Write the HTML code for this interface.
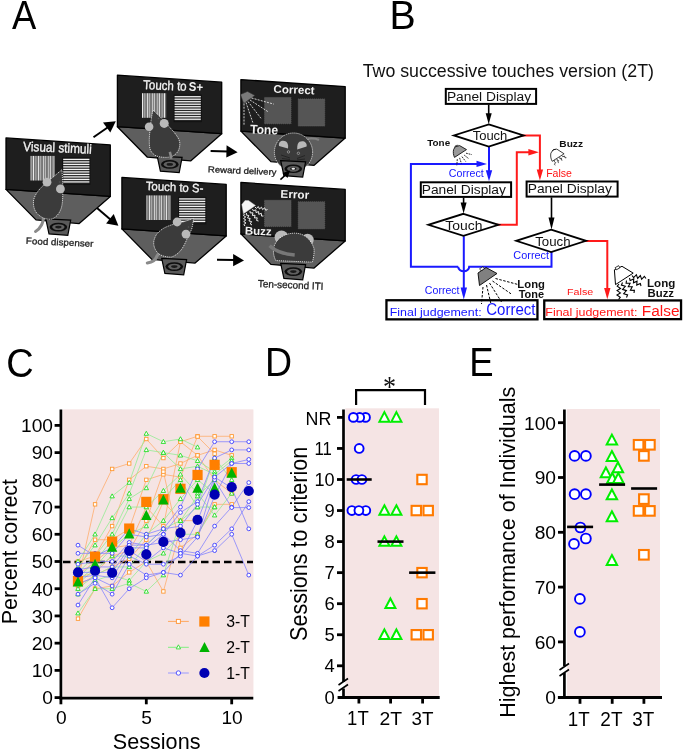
<!DOCTYPE html>
<html><head><meta charset="utf-8"><style>
html,body{margin:0;padding:0;background:#fff;}
svg{display:block;will-change:transform;}
text{font-family:"Liberation Sans",sans-serif;}
</style></head><body>
<svg width="685" height="751" viewBox="0 0 685 751">
<rect width="685" height="751" fill="#fff"/>
<polygon points="6.00,189.40 110.30,196.40 79.20,223.60 36.00,219.90" fill="#5e5e5e" stroke="#000" stroke-width="1.3" stroke-linejoin="round"/><polygon points="6.00,137.90 110.30,144.90 110.30,196.40 6.00,189.40" fill="#1e1e1e" stroke="#000" stroke-width="1.3" stroke-linejoin="round"/><rect x="30.30" y="155.90" width="24.50" height="24.60" fill="#2a2a2a"/><rect x="30.60" y="155.90" width="0.95" height="24.60" fill="#f6f6f6"/><rect x="31.90" y="155.90" width="0.8" height="24.60" fill="#9a9a9a"/><rect x="33.05" y="155.90" width="0.95" height="24.60" fill="#f6f6f6"/><rect x="34.35" y="155.90" width="0.8" height="24.60" fill="#9a9a9a"/><rect x="35.50" y="155.90" width="0.95" height="24.60" fill="#f6f6f6"/><rect x="36.80" y="155.90" width="0.8" height="24.60" fill="#9a9a9a"/><rect x="37.95" y="155.90" width="0.95" height="24.60" fill="#f6f6f6"/><rect x="39.25" y="155.90" width="0.8" height="24.60" fill="#9a9a9a"/><rect x="40.40" y="155.90" width="0.95" height="24.60" fill="#f6f6f6"/><rect x="41.70" y="155.90" width="0.8" height="24.60" fill="#9a9a9a"/><rect x="42.85" y="155.90" width="0.95" height="24.60" fill="#f6f6f6"/><rect x="44.15" y="155.90" width="0.8" height="24.60" fill="#9a9a9a"/><rect x="45.30" y="155.90" width="0.95" height="24.60" fill="#f6f6f6"/><rect x="46.60" y="155.90" width="0.8" height="24.60" fill="#9a9a9a"/><rect x="47.75" y="155.90" width="0.95" height="24.60" fill="#f6f6f6"/><rect x="49.05" y="155.90" width="0.8" height="24.60" fill="#9a9a9a"/><rect x="50.20" y="155.90" width="0.95" height="24.60" fill="#f6f6f6"/><rect x="51.50" y="155.90" width="0.8" height="24.60" fill="#9a9a9a"/><rect x="52.65" y="155.90" width="0.95" height="24.60" fill="#f6f6f6"/><rect x="53.95" y="155.90" width="0.8" height="24.60" fill="#9a9a9a"/><rect x="62.20" y="157.30" width="28.20" height="27.50" fill="#111"/><rect x="63.20" y="158.30" width="26.20" height="25.50" fill="#262626"/><rect x="63.20" y="158.80" width="26.20" height="1.25" fill="#f4f4f4"/><rect x="63.20" y="161.30" width="26.20" height="1.25" fill="#f4f4f4"/><rect x="63.20" y="163.80" width="26.20" height="1.25" fill="#f4f4f4"/><rect x="63.20" y="166.30" width="26.20" height="1.25" fill="#f4f4f4"/><rect x="63.20" y="168.80" width="26.20" height="1.25" fill="#f4f4f4"/><rect x="63.20" y="171.30" width="26.20" height="1.25" fill="#f4f4f4"/><rect x="63.20" y="173.80" width="26.20" height="1.25" fill="#f4f4f4"/><rect x="63.20" y="176.30" width="26.20" height="1.25" fill="#f4f4f4"/><rect x="63.20" y="178.80" width="26.20" height="1.25" fill="#f4f4f4"/><rect x="63.20" y="181.30" width="26.20" height="1.25" fill="#f4f4f4"/><polygon points="45.80,218.90 70.70,220.10 67.80,235.30 49.00,233.90" fill="#5a5a5a" stroke="#000" stroke-width="1.2"/><ellipse cx="58.40" cy="227.10" rx="8.8" ry="4.3" fill="#0d0d0d"/><ellipse cx="58.40" cy="227.10" rx="6.2" ry="2.9" fill="#606060"/><ellipse cx="58.40" cy="227.10" rx="3.2" ry="1.4" fill="#1a1a1a"/>
<polygon points="117.40,126.70 221.70,133.70 190.60,160.90 147.40,157.20" fill="#5e5e5e" stroke="#000" stroke-width="1.3" stroke-linejoin="round"/><polygon points="117.40,75.20 221.70,82.20 221.70,133.70 117.40,126.70" fill="#1e1e1e" stroke="#000" stroke-width="1.3" stroke-linejoin="round"/><rect x="141.70" y="93.20" width="24.50" height="24.60" fill="#2a2a2a"/><rect x="142.00" y="93.20" width="0.95" height="24.60" fill="#f6f6f6"/><rect x="143.30" y="93.20" width="0.8" height="24.60" fill="#9a9a9a"/><rect x="144.45" y="93.20" width="0.95" height="24.60" fill="#f6f6f6"/><rect x="145.75" y="93.20" width="0.8" height="24.60" fill="#9a9a9a"/><rect x="146.90" y="93.20" width="0.95" height="24.60" fill="#f6f6f6"/><rect x="148.20" y="93.20" width="0.8" height="24.60" fill="#9a9a9a"/><rect x="149.35" y="93.20" width="0.95" height="24.60" fill="#f6f6f6"/><rect x="150.65" y="93.20" width="0.8" height="24.60" fill="#9a9a9a"/><rect x="151.80" y="93.20" width="0.95" height="24.60" fill="#f6f6f6"/><rect x="153.10" y="93.20" width="0.8" height="24.60" fill="#9a9a9a"/><rect x="154.25" y="93.20" width="0.95" height="24.60" fill="#f6f6f6"/><rect x="155.55" y="93.20" width="0.8" height="24.60" fill="#9a9a9a"/><rect x="156.70" y="93.20" width="0.95" height="24.60" fill="#f6f6f6"/><rect x="158.00" y="93.20" width="0.8" height="24.60" fill="#9a9a9a"/><rect x="159.15" y="93.20" width="0.95" height="24.60" fill="#f6f6f6"/><rect x="160.45" y="93.20" width="0.8" height="24.60" fill="#9a9a9a"/><rect x="161.60" y="93.20" width="0.95" height="24.60" fill="#f6f6f6"/><rect x="162.90" y="93.20" width="0.8" height="24.60" fill="#9a9a9a"/><rect x="164.05" y="93.20" width="0.95" height="24.60" fill="#f6f6f6"/><rect x="165.35" y="93.20" width="0.8" height="24.60" fill="#9a9a9a"/><rect x="173.60" y="94.60" width="28.20" height="27.50" fill="#111"/><rect x="174.60" y="95.60" width="26.20" height="25.50" fill="#262626"/><rect x="174.60" y="96.10" width="26.20" height="1.25" fill="#f4f4f4"/><rect x="174.60" y="98.60" width="26.20" height="1.25" fill="#f4f4f4"/><rect x="174.60" y="101.10" width="26.20" height="1.25" fill="#f4f4f4"/><rect x="174.60" y="103.60" width="26.20" height="1.25" fill="#f4f4f4"/><rect x="174.60" y="106.10" width="26.20" height="1.25" fill="#f4f4f4"/><rect x="174.60" y="108.60" width="26.20" height="1.25" fill="#f4f4f4"/><rect x="174.60" y="111.10" width="26.20" height="1.25" fill="#f4f4f4"/><rect x="174.60" y="113.60" width="26.20" height="1.25" fill="#f4f4f4"/><rect x="174.60" y="116.10" width="26.20" height="1.25" fill="#f4f4f4"/><rect x="174.60" y="118.60" width="26.20" height="1.25" fill="#f4f4f4"/><polygon points="157.20,156.20 182.10,157.40 179.20,172.60 160.40,171.20" fill="#5a5a5a" stroke="#000" stroke-width="1.2"/><ellipse cx="169.80" cy="164.40" rx="8.8" ry="4.3" fill="#0d0d0d"/><ellipse cx="169.80" cy="164.40" rx="6.2" ry="2.9" fill="#606060"/><ellipse cx="169.80" cy="164.40" rx="3.2" ry="1.4" fill="#1a1a1a"/>
<polygon points="121.90,228.90 226.20,235.90 195.10,263.10 151.90,259.40" fill="#5e5e5e" stroke="#000" stroke-width="1.3" stroke-linejoin="round"/><polygon points="121.90,177.40 226.20,184.40 226.20,235.90 121.90,228.90" fill="#1e1e1e" stroke="#000" stroke-width="1.3" stroke-linejoin="round"/><rect x="146.20" y="195.40" width="24.50" height="24.60" fill="#2a2a2a"/><rect x="146.50" y="195.40" width="0.95" height="24.60" fill="#f6f6f6"/><rect x="147.80" y="195.40" width="0.8" height="24.60" fill="#9a9a9a"/><rect x="148.95" y="195.40" width="0.95" height="24.60" fill="#f6f6f6"/><rect x="150.25" y="195.40" width="0.8" height="24.60" fill="#9a9a9a"/><rect x="151.40" y="195.40" width="0.95" height="24.60" fill="#f6f6f6"/><rect x="152.70" y="195.40" width="0.8" height="24.60" fill="#9a9a9a"/><rect x="153.85" y="195.40" width="0.95" height="24.60" fill="#f6f6f6"/><rect x="155.15" y="195.40" width="0.8" height="24.60" fill="#9a9a9a"/><rect x="156.30" y="195.40" width="0.95" height="24.60" fill="#f6f6f6"/><rect x="157.60" y="195.40" width="0.8" height="24.60" fill="#9a9a9a"/><rect x="158.75" y="195.40" width="0.95" height="24.60" fill="#f6f6f6"/><rect x="160.05" y="195.40" width="0.8" height="24.60" fill="#9a9a9a"/><rect x="161.20" y="195.40" width="0.95" height="24.60" fill="#f6f6f6"/><rect x="162.50" y="195.40" width="0.8" height="24.60" fill="#9a9a9a"/><rect x="163.65" y="195.40" width="0.95" height="24.60" fill="#f6f6f6"/><rect x="164.95" y="195.40" width="0.8" height="24.60" fill="#9a9a9a"/><rect x="166.10" y="195.40" width="0.95" height="24.60" fill="#f6f6f6"/><rect x="167.40" y="195.40" width="0.8" height="24.60" fill="#9a9a9a"/><rect x="168.55" y="195.40" width="0.95" height="24.60" fill="#f6f6f6"/><rect x="169.85" y="195.40" width="0.8" height="24.60" fill="#9a9a9a"/><rect x="178.10" y="196.80" width="28.20" height="27.50" fill="#111"/><rect x="179.10" y="197.80" width="26.20" height="25.50" fill="#262626"/><rect x="179.10" y="198.30" width="26.20" height="1.25" fill="#f4f4f4"/><rect x="179.10" y="200.80" width="26.20" height="1.25" fill="#f4f4f4"/><rect x="179.10" y="203.30" width="26.20" height="1.25" fill="#f4f4f4"/><rect x="179.10" y="205.80" width="26.20" height="1.25" fill="#f4f4f4"/><rect x="179.10" y="208.30" width="26.20" height="1.25" fill="#f4f4f4"/><rect x="179.10" y="210.80" width="26.20" height="1.25" fill="#f4f4f4"/><rect x="179.10" y="213.30" width="26.20" height="1.25" fill="#f4f4f4"/><rect x="179.10" y="215.80" width="26.20" height="1.25" fill="#f4f4f4"/><rect x="179.10" y="218.30" width="26.20" height="1.25" fill="#f4f4f4"/><rect x="179.10" y="220.80" width="26.20" height="1.25" fill="#f4f4f4"/><polygon points="161.70,258.40 186.60,259.60 183.70,274.80 164.90,273.40" fill="#5a5a5a" stroke="#000" stroke-width="1.2"/><ellipse cx="174.30" cy="266.60" rx="8.8" ry="4.3" fill="#0d0d0d"/><ellipse cx="174.30" cy="266.60" rx="6.2" ry="2.9" fill="#606060"/><ellipse cx="174.30" cy="266.60" rx="3.2" ry="1.4" fill="#1a1a1a"/>
<polygon points="240.90,131.10 345.20,138.10 314.10,165.30 270.90,161.60" fill="#5e5e5e" stroke="#000" stroke-width="1.3" stroke-linejoin="round"/><polygon points="240.90,79.60 345.20,86.60 345.20,138.10 240.90,131.10" fill="#1e1e1e" stroke="#000" stroke-width="1.3" stroke-linejoin="round"/><rect x="264.50" y="97.40" width="26.60" height="26.40" fill="#555" stroke="#6a6a6a" stroke-width="0.6" stroke-dasharray="1 1"/><rect x="298.20" y="98.90" width="26.60" height="27.20" fill="#555" stroke="#6a6a6a" stroke-width="0.6" stroke-dasharray="1 1"/>
<polygon points="240.90,233.90 345.20,240.90 314.10,268.10 270.90,264.40" fill="#5e5e5e" stroke="#000" stroke-width="1.3" stroke-linejoin="round"/><polygon points="240.90,182.40 345.20,189.40 345.20,240.90 240.90,233.90" fill="#1e1e1e" stroke="#000" stroke-width="1.3" stroke-linejoin="round"/><rect x="264.50" y="200.20" width="26.60" height="26.40" fill="#555" stroke="#6a6a6a" stroke-width="0.6" stroke-dasharray="1 1"/><rect x="298.20" y="201.70" width="26.60" height="27.20" fill="#555" stroke="#6a6a6a" stroke-width="0.6" stroke-dasharray="1 1"/>
<path d="M44.2,214.7 C43.5,219 43,222 41.5,225 C40,228 38,230 35.5,231.5" fill="none" stroke="#8a8a8a" stroke-width="3" stroke-linecap="round"/>
<path d="M61.9,169.7 C58,173 52,178 46,183 C40,188 35,194 33.6,200 C32.8,207 35,213 40.3,216.2 C44,219 49,219.8 52,219 C57,217 60.5,212 61.8,206 C63,200 63,190 62.6,182 C62.4,177 62.2,173 61.9,169.7 Z" fill="#3b3b3b" stroke="#eee" stroke-width="0.85" stroke-dasharray="1.2 0.9"/>
<circle cx="47" cy="182.2" r="4.4" fill="#b9b9b9"/><circle cx="60.4" cy="188.9" r="4.4" fill="#b9b9b9"/>
<circle cx="59.6" cy="182" r="0.8" fill="#555"/>
<path d="M153,110 C157,114 163,119 168.5,126 C174,132 179.5,138 179.8,143 C180,150 177,154 172,156.5 C168,158 160,157.5 156,155.8 C152,153.5 150,151 149.5,146 C149,140 149.5,134 150,131 C150.5,124 151.5,116 153,110 Z" fill="#3b3b3b" stroke="#eee" stroke-width="0.85" stroke-dasharray="1.2 0.9"/>
<path d="M169.8,151.9 C170.5,154 171,156.5 171.1,158.8" fill="none" stroke="#8a8a8a" stroke-width="2.6"/>
<circle cx="149.1" cy="126.8" r="4.3" fill="#b9b9b9"/><circle cx="164.2" cy="123.4" r="4.5" fill="#b9b9b9"/>
<circle cx="158.5" cy="118.5" r="0.8" fill="#555"/>
<path d="M161,251.4 C159,253 157.5,254.5 156.5,257 C155.5,260 153,262 147.4,263" fill="none" stroke="#8a8a8a" stroke-width="3.2" stroke-linecap="round"/>
<path d="M193.6,218.4 C189,220 186,221 182.8,222 C179,223 175,224 171.5,224.9 C167,226.5 163.5,228 161,230.1 C158,232.5 156.5,234 155.4,236.5 C153.8,240 153.5,242 153.8,244.5 C154.2,247.5 155,249 156.2,251 C158,253.5 160,255 162.7,255.8 C165.5,256.8 168.5,257.2 171.5,257 C174.5,256 176.7,254.5 178.7,252.6 C181,250.5 183,247.5 184.4,244.5 C185.8,242 186.8,239.5 187.6,237.3 C189,234.5 190.3,232 191.6,229.3 C192.5,226 193.2,222 193.6,218.4 Z" fill="#3b3b3b" stroke="#eee" stroke-width="0.85" stroke-dasharray="1.2 0.9"/>
<circle cx="177.1" cy="222" r="4.4" fill="#b9b9b9"/><circle cx="186" cy="234.1" r="4.4" fill="#b9b9b9"/>
<circle cx="188.5" cy="227" r="0.8" fill="#555"/>
<path d="M306,139 C311,138 316,138.5 319,140" fill="none" stroke="#8a8a8a" stroke-width="2.2" opacity="0.8"/>
<circle cx="293.5" cy="152.1" r="19.1" fill="#3b3b3b" stroke="#eee" stroke-width="0.85" stroke-dasharray="1.2 0.9"/>
<path d="M279,146 C278,141 283,139.5 286,141.5 C287.5,142.5 288.5,144.5 288,148.5 Z" fill="#b9b9b9"/>
<path d="M306.6,146.5 C307.5,142 303,140 299.5,141.8 C298,142.8 297,145 297.2,149.5 Z" fill="#b9b9b9"/>
<circle cx="288.5" cy="151.9" r="1.2" fill="none" stroke="#bbb" stroke-width="0.6"/><circle cx="298.4" cy="153.3" r="1.2" fill="none" stroke="#bbb" stroke-width="0.6"/>
<path d="M281,155 L290,158 M282,158.5 L290,159.5 M305,155.5 L297,158.5 M305,159 L297,160" stroke="#151515" stroke-width="0.6"/>
<circle cx="281.5" cy="237.3" r="6.9" fill="#b9b9b9"/><circle cx="307.5" cy="240" r="6.2" fill="#b9b9b9"/>
<path d="M275.8,260.6 C273,255 273,250 274.2,246 C277,238 285,233.2 294.7,233.2 C304,233.2 311,239 314,248.5 C314.5,253 313.5,258 312.4,262.2 Z" fill="#3b3b3b" stroke="#eee" stroke-width="0.85" stroke-dasharray="1.2 0.9"/>
<path d="M269.6,245.7 C275,251 284,254 294.7,255" fill="none" stroke="#777" stroke-width="3.4"/>
<polygon points="240.50,94.50 247.50,91.40 254.90,95.40 243.70,103.60" fill="#7a7a7a" stroke="#333" stroke-width="0.6"/>
<line x1="251.50" y1="98.00" x2="273.80" y2="104.10" stroke="#e0e0e0" stroke-width="0.9" stroke-dasharray="2 1.2"/>
<line x1="250.00" y1="100.00" x2="268.50" y2="112.00" stroke="#e0e0e0" stroke-width="0.9" stroke-dasharray="2 1.2"/>
<line x1="248.00" y1="101.50" x2="261.50" y2="119.00" stroke="#e0e0e0" stroke-width="0.9" stroke-dasharray="2 1.2"/>
<line x1="246.00" y1="102.50" x2="252.80" y2="122.50" stroke="#e0e0e0" stroke-width="0.9" stroke-dasharray="2 1.2"/>
<line x1="244.00" y1="103.50" x2="244.00" y2="125.70" stroke="#e0e0e0" stroke-width="0.9" stroke-dasharray="2 1.2"/>
<polygon points="241.80,204.50 245.00,200.50 248.50,200.50 255.50,205.50 243.50,213.70" fill="#f4f4f4" stroke="#ccc" stroke-width="0.4"/>
<polyline points="255.00,207.00 256.35,208.39 258.34,206.55 259.47,209.02 261.47,207.17 262.60,209.64 264.59,207.80 265.72,210.27 267.50,209.50" fill="none" stroke="#eee" stroke-width="1.0"/>
<polyline points="252.50,209.00 253.28,210.80 255.84,209.82 256.03,212.55 258.59,211.57 258.78,214.30 261.34,213.32 261.53,216.05 263.50,216.00" fill="none" stroke="#eee" stroke-width="1.0"/>
<polyline points="250.00,211.00 250.22,212.96 252.96,212.79 252.35,215.46 255.09,215.29 254.47,217.96 257.21,217.79 256.60,220.46 258.50,221.00" fill="none" stroke="#eee" stroke-width="1.0"/>
<polyline points="246.50,213.00 246.19,214.96 248.87,215.54 247.56,217.96 250.25,218.54 248.94,220.96 251.62,221.54 250.31,223.96 252.00,225.00" fill="none" stroke="#eee" stroke-width="1.0"/>
<polyline points="244.50,214.00 243.46,215.55 245.72,216.95 243.59,218.55 245.85,219.95 243.71,221.55 245.97,222.95 243.84,224.55 245.00,226.00" fill="none" stroke="#eee" stroke-width="1.0"/>
<line x1="93.50" y1="137.20" x2="109.00" y2="126.50" stroke="#000" stroke-width="2"/>
<polygon points="115.80,121.20 103.00,122.60 110.30,132.50" fill="#000" stroke="none" stroke-width="1"/>
<line x1="97.00" y1="208.10" x2="111.00" y2="220.00" stroke="#000" stroke-width="2"/>
<polygon points="118.40,225.70 106.10,223.60 113.70,214.00" fill="#000" stroke="none" stroke-width="1"/>
<line x1="210.60" y1="150.90" x2="228.00" y2="151.60" stroke="#000" stroke-width="2"/>
<polygon points="237.60,152.20 226.60,145.20 226.30,157.60" fill="#000" stroke="none" stroke-width="1"/>
<line x1="217.00" y1="259.70" x2="234.00" y2="260.00" stroke="#000" stroke-width="2"/>
<polygon points="244.00,260.40 233.10,253.90 233.10,266.30" fill="#000" stroke="none" stroke-width="1"/>
<polygon points="280.70,160.60 305.60,161.80 302.70,177.00 283.90,175.60" fill="#5a5a5a" stroke="#000" stroke-width="1.2"/><ellipse cx="293.30" cy="168.80" rx="8.8" ry="4.3" fill="#0d0d0d"/><ellipse cx="293.30" cy="168.80" rx="6.2" ry="2.9" fill="#606060"/><ellipse cx="293.30" cy="168.80" rx="3.2" ry="1.4" fill="#1a1a1a"/>
<polygon points="280.70,263.40 305.60,264.60 302.70,279.80 283.90,278.40" fill="#5a5a5a" stroke="#000" stroke-width="1.2"/><ellipse cx="293.30" cy="271.60" rx="8.8" ry="4.3" fill="#0d0d0d"/><ellipse cx="293.30" cy="271.60" rx="6.2" ry="2.9" fill="#606060"/><ellipse cx="293.30" cy="271.60" rx="3.2" ry="1.4" fill="#1a1a1a"/>
<ellipse cx="293.3" cy="168.8" rx="1.8" ry="1" fill="#eee"/>
<line x1="280.40" y1="179.60" x2="286.00" y2="174.50" stroke="#000" stroke-width="1.6"/>
<polygon points="290.00,170.50 282.50,173.00 287.50,178.00" fill="#000" stroke="none" stroke-width="1"/>
<text transform="translate(12.00 28.90) scale(0.8968 1)" font-size="40.58" font-weight="normal" fill="#000">A</text>
<text transform="rotate(2.40 23.10 150.90) translate(23.04 150.90) scale(0.8821 1)" font-size="13.38" font-weight="normal" fill="#f2f2f2" stroke="#f2f2f2" stroke-width="0.35">Visual stimuli</text>
<text transform="rotate(2.40 143.20 88.90) translate(142.97 88.90) scale(0.8990 1)" font-size="12.83" font-weight="normal" fill="#f2f2f2" stroke="#f2f2f2" stroke-width="0.35">Touch to</text>
<text transform="rotate(2.40 143.20 88.90) translate(188.65 88.90) scale(0.9214 1)" font-size="12.60" font-weight="bold" fill="#f2f2f2">S+</text>
<text transform="rotate(2.40 145.90 190.10) translate(145.67 190.10) scale(0.9493 1)" font-size="12.00" font-weight="normal" fill="#f2f2f2" stroke="#f2f2f2" stroke-width="0.35">Touch to S-</text>
<text transform="rotate(2.40 273.80 92.80) translate(273.34 92.80) scale(1.0264 1)" font-size="11.29" font-weight="bold" fill="#f2f2f2">Correct</text>
<text transform="rotate(2.40 250.10 133.40) translate(249.98 133.40) scale(0.9499 1)" font-size="12.75" font-weight="bold" fill="#f2f2f2">Tone</text>
<text transform="rotate(2.40 281.10 197.80) translate(280.34 197.80) scale(1.0230 1)" font-size="11.45" font-weight="bold" fill="#f2f2f2">Error</text>
<text transform="rotate(2.40 245.40 234.50) translate(244.65 234.50) scale(1.0212 1)" font-size="11.30" font-weight="bold" fill="#f2f2f2">Buzz</text>
<text transform="rotate(2.60 26.60 243.90) translate(25.82 243.90) scale(1.0606 1)" font-size="9.24" font-weight="normal" fill="#222" stroke="#222" stroke-width="0.3">Food dispenser</text>
<text transform="rotate(2.40 208.50 172.30) translate(207.73 172.30) scale(1.1053 1)" font-size="8.69" font-weight="normal" fill="#222" stroke="#222" stroke-width="0.3">Reward delivery</text>
<text transform="rotate(2.40 258.00 287.10) translate(257.80 287.10) scale(0.9722 1)" font-size="10.21" font-weight="normal" fill="#222" stroke="#222" stroke-width="0.3">Ten-second ITI</text>
<text transform="translate(389.56 28.70) scale(0.9795 1)" font-size="40.07" font-weight="normal" fill="#000">B</text>
<text transform="translate(362.74 77.00) scale(0.9837 1)" font-size="18.07" font-weight="normal" fill="#111">Two successive touches version (2T)</text>
<polyline points="521.60,135.60 539.90,135.60 539.90,170.00" fill="none" stroke="#ff1a1a" stroke-width="2"/>
<polygon points="539.90,180.40 536.70,169.40 543.10,169.40" fill="#ff1a1a" stroke="none" stroke-width="1"/>
<polyline points="496.50,224.80 516.80,224.80 516.80,152.20 529.00,152.20" fill="none" stroke="#ff1a1a" stroke-width="2"/>
<polygon points="538.90,152.20 528.40,155.40 528.40,149.00" fill="#ff1a1a" stroke="none" stroke-width="1"/>
<polyline points="584.20,241.00 607.30,241.00 607.30,289.00" fill="none" stroke="#ff1a1a" stroke-width="2"/>
<polygon points="607.30,299.30 604.10,287.90 610.50,287.90" fill="#ff1a1a" stroke="none" stroke-width="1"/>
<polyline points="489.00,146.90 489.00,171.00" fill="none" stroke="#1a1aff" stroke-width="2"/>
<polygon points="489.00,181.30 485.80,170.30 492.20,170.30" fill="#1a1aff" stroke="none" stroke-width="1"/>
<polyline points="463.80,236.20 463.80,289.00" fill="none" stroke="#1a1aff" stroke-width="2"/>
<polygon points="463.80,299.60 460.60,287.60 467.00,287.60" fill="#1a1aff" stroke="none" stroke-width="1"/>
<polyline points="458.20,266.70 410.90,266.70 410.90,163.90 477.00,163.90" fill="none" stroke="#1a1aff" stroke-width="2"/>
<polygon points="487.00,163.90 476.50,167.10 476.50,160.70" fill="#1a1aff" stroke="none" stroke-width="1"/>
<path d="M458.2,266.7 A5.3,4.5 0 0 0 469.2,266.7 L551.5,266.7 L551.5,252" fill="none" stroke="#1a1aff" stroke-width="2"/>
<line x1="488.70" y1="104.70" x2="488.70" y2="114.00" stroke="#000" stroke-width="1.6"/>
<polygon points="488.70,124.30 485.70,113.30 491.70,113.30" fill="#000" stroke="none" stroke-width="1"/>
<line x1="463.60" y1="197.70" x2="463.60" y2="203.00" stroke="#000" stroke-width="1.6"/>
<polygon points="463.60,213.60 460.60,202.60 466.60,202.60" fill="#000" stroke="none" stroke-width="1"/>
<line x1="551.50" y1="197.40" x2="551.50" y2="219.00" stroke="#000" stroke-width="1.6"/>
<polygon points="551.50,229.60 548.50,217.60 554.50,217.60" fill="#000" stroke="none" stroke-width="1"/>
<rect x="445.80" y="88.90" width="90.30" height="15.00" fill="#fff" stroke="#000" stroke-width="2"/>
<rect x="420.80" y="182.30" width="90.30" height="14.60" fill="#fff" stroke="#000" stroke-width="2"/>
<rect x="526.60" y="181.50" width="91.00" height="15.10" fill="#fff" stroke="#000" stroke-width="2"/>
<polygon points="488.75,124.40 523.60,135.45 488.75,146.50 453.90,135.45" fill="#fff" stroke="#000" stroke-width="1.8" stroke-linejoin="miter" stroke-miterlimit="10"/>
<polygon points="463.45,213.80 498.50,224.80 463.45,235.80 428.40,224.80" fill="#fff" stroke="#000" stroke-width="1.8" stroke-linejoin="miter" stroke-miterlimit="10"/>
<polygon points="551.10,229.60 586.00,240.80 551.10,252.00 516.20,240.80" fill="#fff" stroke="#000" stroke-width="1.8" stroke-linejoin="miter" stroke-miterlimit="10"/>
<rect x="386.45" y="300.25" width="151.00" height="19.10" fill="#fff" stroke="#000" stroke-width="2.3"/>
<rect x="544.25" y="300.45" width="136.80" height="18.70" fill="#fff" stroke="#000" stroke-width="2.3"/>
<text transform="translate(446.90 100.50) scale(1.1230 1)" font-size="12.28" font-weight="normal" fill="#111">Panel Display</text>
<text transform="translate(421.70 193.70) scale(1.0864 1)" font-size="12.69" font-weight="normal" fill="#111">Panel Display</text>
<text transform="translate(527.70 193.10) scale(1.0747 1)" font-size="12.83" font-weight="normal" fill="#111">Panel Display</text>
<text transform="translate(472.64 140.20) scale(1.0729 1)" font-size="12.14" font-weight="normal" fill="#111">Touch</text>
<text transform="translate(445.32 230.00) scale(1.0190 1)" font-size="13.66" font-weight="normal" fill="#111">Touch</text>
<text transform="translate(535.23 245.60) scale(1.0446 1)" font-size="12.69" font-weight="normal" fill="#111">Touch</text>
<text transform="translate(389.70 315.80) scale(1.0609 1)" font-size="11.72" font-weight="normal" fill="#1414ff">Final judgement:</text>
<text transform="translate(486.25 315.40) scale(0.9653 1)" font-size="15.57" font-weight="normal" fill="#1414ff">Correct</text>
<text transform="translate(545.30 315.60) scale(1.0888 1)" font-size="11.45" font-weight="normal" fill="#ff1414">Final judgement:</text>
<text transform="translate(641.87 315.50) scale(1.1077 1)" font-size="13.93" font-weight="normal" fill="#ff1414">False</text>
<text transform="translate(448.87 176.60) scale(1.0652 1)" font-size="10.00" font-weight="normal" fill="#1414ff">Correct</text>
<text transform="translate(546.16 176.80) scale(1.0488 1)" font-size="10.07" font-weight="normal" fill="#ff1414">False</text>
<text transform="translate(513.35 259.40) scale(1.0747 1)" font-size="10.14" font-weight="normal" fill="#1414ff">Correct</text>
<text transform="translate(424.87 293.60) scale(1.0155 1)" font-size="10.43" font-weight="normal" fill="#1414ff">Correct</text>
<text transform="translate(567.04 295.10) scale(1.1071 1)" font-size="9.66" font-weight="normal" fill="#ff1414">False</text>
<text transform="translate(427.30 146.00) scale(1.0013 1)" font-size="9.86" font-weight="bold" fill="#111">Tone</text>
<text transform="translate(559.34 146.90) scale(1.1878 1)" font-size="8.55" font-weight="bold" fill="#111">Buzz</text>
<text transform="translate(517.37 287.50) scale(0.9847 1)" font-size="11.45" font-weight="bold" fill="#111">Long</text>
<text transform="translate(518.69 297.60) scale(1.0812 1)" font-size="10.14" font-weight="bold" fill="#111">Tone</text>
<text transform="translate(647.05 287.30) scale(1.0374 1)" font-size="11.16" font-weight="bold" fill="#111">Long</text>
<text transform="translate(647.56 297.20) scale(1.0891 1)" font-size="10.43" font-weight="bold" fill="#111">Buzz</text>
<path d="M454.5,157.4 C453.3,155 453,152 453.6,149.6 L455.2,146.8 L459.6,145.6 L466.5,149.6 Z" fill="#999" stroke="#111" stroke-width="0.9" stroke-linejoin="round"/>
<path d="M454.6,147.3 L455.6,145.6 L458.2,145.2" fill="none" stroke="#111" stroke-width="0.7"/>
<line x1="466.00" y1="153.20" x2="471.80" y2="154.60" stroke="#111" stroke-width="0.9" stroke-dasharray="1.8 0.9"/>
<line x1="464.20" y1="155.10" x2="468.80" y2="158.70" stroke="#111" stroke-width="0.9" stroke-dasharray="1.8 0.9"/>
<line x1="461.90" y1="156.60" x2="465.70" y2="161.50" stroke="#111" stroke-width="0.9" stroke-dasharray="1.8 0.9"/>
<line x1="459.60" y1="157.90" x2="461.40" y2="163.50" stroke="#111" stroke-width="0.9" stroke-dasharray="1.8 0.9"/>
<line x1="457.30" y1="159.20" x2="456.80" y2="165.30" stroke="#111" stroke-width="0.9" stroke-dasharray="1.8 0.9"/>
<path d="M552.2,161.3 C550.6,158.5 550.4,155.5 550.9,153.1 L553.2,149.8 L556.8,149.1 L564.1,153.8 Z" fill="#fff" stroke="#111" stroke-width="0.8" stroke-linejoin="round"/>
<path d="M552.3,151.2 L553.6,149.6 L555.6,149.3" fill="none" stroke="#111" stroke-width="0.9"/>
<polyline points="562.00,155.60 562.80,156.76 564.50,156.02 565.00,157.81 566.40,157.70" fill="none" stroke="#000" stroke-width="0.7"/>
<polyline points="559.60,157.30 559.80,158.51 561.50,158.26 561.20,159.96 562.40,160.20" fill="none" stroke="#000" stroke-width="0.7"/>
<polyline points="557.20,158.90 556.95,160.14 558.65,160.58 557.75,162.09 558.80,162.80" fill="none" stroke="#000" stroke-width="0.7"/>
<polyline points="554.80,160.20 554.20,161.53 555.70,162.70 554.40,164.08 555.20,165.30" fill="none" stroke="#000" stroke-width="0.7"/>
<polygon points="478.00,273.00 486.00,267.50 497.00,273.50 479.50,285.50" fill="#808080" stroke="#000" stroke-width="0.9"/>
<rect x="480" y="267.5" width="4" height="2.5" fill="#fff" stroke="#000" stroke-width="0.6" transform="rotate(-30 482 268.7)"/>
<line x1="495.50" y1="278.50" x2="518.00" y2="284.50" stroke="#000" stroke-width="1" stroke-dasharray="2.5 1.5"/>
<line x1="492.50" y1="281.00" x2="512.00" y2="294.50" stroke="#000" stroke-width="1" stroke-dasharray="2.5 1.5"/>
<line x1="489.50" y1="283.00" x2="501.50" y2="302.00" stroke="#000" stroke-width="1" stroke-dasharray="2.5 1.5"/>
<line x1="486.50" y1="285.00" x2="491.00" y2="304.00" stroke="#000" stroke-width="1" stroke-dasharray="2.5 1.5"/>
<line x1="483.00" y1="287.00" x2="481.50" y2="304.00" stroke="#000" stroke-width="1" stroke-dasharray="2.5 1.5"/>
<polygon points="614.40,269.80 622.00,266.30 633.20,273.10 615.50,284.60" fill="#fff" stroke="#000" stroke-width="1"/>
<rect x="615.5" y="266.5" width="4" height="2.5" fill="#fff" stroke="#000" stroke-width="0.7" transform="rotate(-30 617.5 267.7)"/>
<polyline points="632.00,275.50 633.64,277.59 636.36,274.69 637.64,278.45 640.36,275.55 641.64,279.31 644.36,276.41 646.00,278.50" fill="none" stroke="#000" stroke-width="1.1"/>
<polyline points="629.50,278.00 630.17,280.54 633.76,278.89 633.46,282.82 637.04,281.18 636.74,285.11 640.33,283.46 641.00,286.00" fill="none" stroke="#000" stroke-width="1.1"/>
<polyline points="626.50,280.50 626.11,283.16 630.10,283.20 628.26,286.73 632.24,286.77 630.40,290.30 634.39,290.34 634.00,293.00" fill="none" stroke="#000" stroke-width="1.1"/>
<polyline points="622.50,282.50 621.43,285.08 625.29,286.35 622.57,289.37 626.43,290.63 623.71,293.65 627.57,294.92 626.50,297.50" fill="none" stroke="#000" stroke-width="1.1"/>
<polyline points="619.00,284.00 617.23,286.16 620.56,288.48 617.09,290.59 620.41,292.91 616.94,295.02 620.27,297.34 618.50,299.50" fill="none" stroke="#000" stroke-width="1.1"/>
<rect x="62.3" y="409.5" width="191" height="287.2" fill="#fbeeee"/>
<rect x="63.3" y="409.5" width="190" height="286.6" fill="#f5e4e4"/>
<text transform="translate(6.20 376.80) scale(0.9193 1)" font-size="41.29" font-weight="normal" fill="#000">C</text>
<line x1="63.00" y1="562.00" x2="253.00" y2="562.00" stroke="#000" stroke-width="2.6" stroke-dasharray="7.5 4"/>
<polyline points="77.98,580.55 95.06,504.34 112.14,468.95 129.22,463.51 146.30,439.01 163.38,458.06 180.46,441.73 197.54,436.29 214.62,436.29 231.70,436.29" fill="none" stroke="#ffaa66" stroke-width="0.75"/><polyline points="77.98,561.50 95.06,556.06 112.14,526.11 129.22,479.84 146.30,466.23 163.38,468.95 180.46,463.51 197.54,455.34 214.62,449.90 231.70,455.34" fill="none" stroke="#ffaa66" stroke-width="0.75"/><polyline points="77.98,569.67 95.06,539.72 112.14,539.72 129.22,528.84 146.30,479.84 163.38,474.40 180.46,477.12 197.54,436.56 214.62,453.71" fill="none" stroke="#ffaa66" stroke-width="0.75"/><polyline points="77.98,575.11 95.06,561.50 112.14,547.89 129.22,545.17 146.30,507.06 163.38,526.11 180.46,441.73 197.54,455.34 214.62,479.84 231.70,493.45" fill="none" stroke="#ffaa66" stroke-width="0.75"/><polyline points="77.98,577.83 95.06,572.39 112.14,556.06 129.22,550.61 146.30,520.67 163.38,471.67 180.46,547.89 197.54,534.28 214.62,504.34 231.70,504.34" fill="none" stroke="#ffaa66" stroke-width="0.75"/><polyline points="77.98,586.00 95.06,575.11 112.14,566.94 129.22,558.78 146.30,539.72 163.38,501.62 180.46,520.67 197.54,520.67" fill="none" stroke="#ffaa66" stroke-width="0.75"/><polyline points="77.98,618.66 95.06,588.72 112.14,586.00 129.22,572.39 146.30,561.50 163.38,591.44 180.46,528.84" fill="none" stroke="#ffaa66" stroke-width="0.75"/><polyline points="77.98,561.50 95.06,534.28 112.14,496.17 129.22,482.56 146.30,433.57 163.38,441.73 180.46,439.01 197.54,447.18" fill="none" stroke="#8fec8f" stroke-width="0.75"/><polyline points="77.98,566.94 95.06,545.17 112.14,517.95 129.22,493.45 146.30,449.90 163.38,452.62 180.46,455.34 197.54,460.79 214.62,471.67 231.70,458.06" fill="none" stroke="#8fec8f" stroke-width="0.75"/><polyline points="77.98,572.39 95.06,556.06 112.14,534.28 129.22,498.89 146.30,488.01 163.38,452.62 180.46,468.95 197.54,466.23 214.62,474.40 231.70,460.79" fill="none" stroke="#8fec8f" stroke-width="0.75"/><polyline points="77.98,577.83 95.06,561.50 112.14,539.72 129.22,507.06 146.30,507.06 163.38,490.73 180.46,474.40 197.54,493.45 214.62,515.23 231.70,493.45" fill="none" stroke="#8fec8f" stroke-width="0.75"/><polyline points="77.98,580.55 95.06,566.94 112.14,547.89 129.22,534.28 146.30,526.11 163.38,498.89 180.46,479.84 197.54,507.06 214.62,458.06 231.70,479.84" fill="none" stroke="#8fec8f" stroke-width="0.75"/><polyline points="77.98,583.28 95.06,569.67 112.14,556.06 129.22,556.06 146.30,534.28 163.38,520.67 180.46,498.89 197.54,479.84 214.62,493.45" fill="none" stroke="#8fec8f" stroke-width="0.75"/><polyline points="77.98,588.72 95.06,575.11 112.14,566.94 129.22,566.94 146.30,545.17 163.38,528.84 180.46,520.67 197.54,496.17 214.62,479.84" fill="none" stroke="#8fec8f" stroke-width="0.75"/><polyline points="77.98,594.16 95.06,580.55 112.14,575.11 129.22,580.55 146.30,561.50 163.38,553.33 180.46,534.28 197.54,534.28 214.62,507.06" fill="none" stroke="#8fec8f" stroke-width="0.75"/><polyline points="77.98,613.22 95.06,588.72 112.14,588.72 129.22,583.28 146.30,591.44 163.38,575.11 180.46,520.67 197.54,507.06 214.62,507.06" fill="none" stroke="#8fec8f" stroke-width="0.75"/><polyline points="77.98,545.17 95.06,556.06 112.14,547.89 129.22,528.84 146.30,534.28 163.38,528.84 180.46,507.06 197.54,468.95 214.62,441.73 231.70,441.73 248.78,441.73" fill="none" stroke="#7d7dff" stroke-width="0.75"/><polyline points="77.98,553.33 95.06,553.33 112.14,553.33 129.22,534.28 146.30,537.00 163.38,534.28 180.46,512.50 197.54,501.62 214.62,458.06 231.70,449.90 248.78,449.90" fill="none" stroke="#7d7dff" stroke-width="0.75"/><polyline points="77.98,564.22 95.06,561.50 112.14,561.50 129.22,542.45 146.30,545.17 163.38,528.84 180.46,526.11 197.54,504.34 214.62,477.12 231.70,463.51 248.78,459.43" fill="none" stroke="#7d7dff" stroke-width="0.75"/><polyline points="77.98,569.67 95.06,566.94 112.14,566.94 129.22,545.17 146.30,545.17 163.38,542.45 180.46,539.72 197.54,537.00 214.62,496.17 231.70,463.51 248.78,463.51" fill="none" stroke="#7d7dff" stroke-width="0.75"/><polyline points="77.98,572.39 95.06,572.39 112.14,572.39 129.22,547.89 146.30,547.89 163.38,534.28 180.46,550.61 197.54,553.33 214.62,526.11 231.70,507.06 248.78,482.56" fill="none" stroke="#7d7dff" stroke-width="0.75"/><polyline points="77.98,577.83 95.06,575.11 112.14,577.83 129.22,550.61 146.30,561.50 163.38,547.89 180.46,553.33 197.54,556.06 214.62,545.17 231.70,528.84 248.78,501.62" fill="none" stroke="#7d7dff" stroke-width="0.75"/><polyline points="77.98,583.28 95.06,577.83 112.14,586.00 129.22,556.06 146.30,564.22 163.38,564.22 180.46,556.06 197.54,537.00 214.62,479.84 231.70,507.60 248.78,507.60" fill="none" stroke="#7d7dff" stroke-width="0.75"/><polyline points="77.98,594.16 95.06,583.28 112.14,594.16 129.22,564.22 146.30,575.11 163.38,572.39 180.46,575.11 197.54,556.06 214.62,550.61 231.70,534.28 248.78,575.11" fill="none" stroke="#7d7dff" stroke-width="0.75"/><polyline points="77.98,605.05 95.06,577.83 112.14,607.77 129.22,588.72 146.30,577.83 163.38,572.39 180.46,553.33 197.54,520.67 214.62,477.12 231.70,488.01 248.78,528.84" fill="none" stroke="#7d7dff" stroke-width="0.75"/><rect x="76.28" y="578.85" width="3.4" height="3.4" fill="#fff" stroke="#ff9933" stroke-width="0.9"/><rect x="93.36" y="502.64" width="3.4" height="3.4" fill="#fff" stroke="#ff9933" stroke-width="0.9"/><rect x="110.44" y="467.25" width="3.4" height="3.4" fill="#fff" stroke="#ff9933" stroke-width="0.9"/><rect x="127.52" y="461.81" width="3.4" height="3.4" fill="#fff" stroke="#ff9933" stroke-width="0.9"/><rect x="144.60" y="437.31" width="3.4" height="3.4" fill="#fff" stroke="#ff9933" stroke-width="0.9"/><rect x="161.68" y="456.36" width="3.4" height="3.4" fill="#fff" stroke="#ff9933" stroke-width="0.9"/><rect x="178.76" y="440.03" width="3.4" height="3.4" fill="#fff" stroke="#ff9933" stroke-width="0.9"/><rect x="195.84" y="434.59" width="3.4" height="3.4" fill="#fff" stroke="#ff9933" stroke-width="0.9"/><rect x="212.92" y="434.59" width="3.4" height="3.4" fill="#fff" stroke="#ff9933" stroke-width="0.9"/><rect x="230.00" y="434.59" width="3.4" height="3.4" fill="#fff" stroke="#ff9933" stroke-width="0.9"/><rect x="76.28" y="559.80" width="3.4" height="3.4" fill="#fff" stroke="#ff9933" stroke-width="0.9"/><rect x="93.36" y="554.36" width="3.4" height="3.4" fill="#fff" stroke="#ff9933" stroke-width="0.9"/><rect x="110.44" y="524.41" width="3.4" height="3.4" fill="#fff" stroke="#ff9933" stroke-width="0.9"/><rect x="127.52" y="478.14" width="3.4" height="3.4" fill="#fff" stroke="#ff9933" stroke-width="0.9"/><rect x="144.60" y="464.53" width="3.4" height="3.4" fill="#fff" stroke="#ff9933" stroke-width="0.9"/><rect x="161.68" y="467.25" width="3.4" height="3.4" fill="#fff" stroke="#ff9933" stroke-width="0.9"/><rect x="178.76" y="461.81" width="3.4" height="3.4" fill="#fff" stroke="#ff9933" stroke-width="0.9"/><rect x="195.84" y="453.64" width="3.4" height="3.4" fill="#fff" stroke="#ff9933" stroke-width="0.9"/><rect x="212.92" y="448.20" width="3.4" height="3.4" fill="#fff" stroke="#ff9933" stroke-width="0.9"/><rect x="230.00" y="453.64" width="3.4" height="3.4" fill="#fff" stroke="#ff9933" stroke-width="0.9"/><rect x="76.28" y="567.97" width="3.4" height="3.4" fill="#fff" stroke="#ff9933" stroke-width="0.9"/><rect x="93.36" y="538.02" width="3.4" height="3.4" fill="#fff" stroke="#ff9933" stroke-width="0.9"/><rect x="110.44" y="538.02" width="3.4" height="3.4" fill="#fff" stroke="#ff9933" stroke-width="0.9"/><rect x="127.52" y="527.14" width="3.4" height="3.4" fill="#fff" stroke="#ff9933" stroke-width="0.9"/><rect x="144.60" y="478.14" width="3.4" height="3.4" fill="#fff" stroke="#ff9933" stroke-width="0.9"/><rect x="161.68" y="472.70" width="3.4" height="3.4" fill="#fff" stroke="#ff9933" stroke-width="0.9"/><rect x="178.76" y="475.42" width="3.4" height="3.4" fill="#fff" stroke="#ff9933" stroke-width="0.9"/><rect x="195.84" y="434.86" width="3.4" height="3.4" fill="#fff" stroke="#ff9933" stroke-width="0.9"/><rect x="212.92" y="452.01" width="3.4" height="3.4" fill="#fff" stroke="#ff9933" stroke-width="0.9"/><rect x="76.28" y="573.41" width="3.4" height="3.4" fill="#fff" stroke="#ff9933" stroke-width="0.9"/><rect x="93.36" y="559.80" width="3.4" height="3.4" fill="#fff" stroke="#ff9933" stroke-width="0.9"/><rect x="110.44" y="546.19" width="3.4" height="3.4" fill="#fff" stroke="#ff9933" stroke-width="0.9"/><rect x="127.52" y="543.47" width="3.4" height="3.4" fill="#fff" stroke="#ff9933" stroke-width="0.9"/><rect x="144.60" y="505.36" width="3.4" height="3.4" fill="#fff" stroke="#ff9933" stroke-width="0.9"/><rect x="161.68" y="524.41" width="3.4" height="3.4" fill="#fff" stroke="#ff9933" stroke-width="0.9"/><rect x="178.76" y="440.03" width="3.4" height="3.4" fill="#fff" stroke="#ff9933" stroke-width="0.9"/><rect x="195.84" y="453.64" width="3.4" height="3.4" fill="#fff" stroke="#ff9933" stroke-width="0.9"/><rect x="212.92" y="478.14" width="3.4" height="3.4" fill="#fff" stroke="#ff9933" stroke-width="0.9"/><rect x="230.00" y="491.75" width="3.4" height="3.4" fill="#fff" stroke="#ff9933" stroke-width="0.9"/><rect x="76.28" y="576.13" width="3.4" height="3.4" fill="#fff" stroke="#ff9933" stroke-width="0.9"/><rect x="93.36" y="570.69" width="3.4" height="3.4" fill="#fff" stroke="#ff9933" stroke-width="0.9"/><rect x="110.44" y="554.36" width="3.4" height="3.4" fill="#fff" stroke="#ff9933" stroke-width="0.9"/><rect x="127.52" y="548.91" width="3.4" height="3.4" fill="#fff" stroke="#ff9933" stroke-width="0.9"/><rect x="144.60" y="518.97" width="3.4" height="3.4" fill="#fff" stroke="#ff9933" stroke-width="0.9"/><rect x="161.68" y="469.97" width="3.4" height="3.4" fill="#fff" stroke="#ff9933" stroke-width="0.9"/><rect x="178.76" y="546.19" width="3.4" height="3.4" fill="#fff" stroke="#ff9933" stroke-width="0.9"/><rect x="195.84" y="532.58" width="3.4" height="3.4" fill="#fff" stroke="#ff9933" stroke-width="0.9"/><rect x="212.92" y="502.64" width="3.4" height="3.4" fill="#fff" stroke="#ff9933" stroke-width="0.9"/><rect x="230.00" y="502.64" width="3.4" height="3.4" fill="#fff" stroke="#ff9933" stroke-width="0.9"/><rect x="76.28" y="584.30" width="3.4" height="3.4" fill="#fff" stroke="#ff9933" stroke-width="0.9"/><rect x="93.36" y="573.41" width="3.4" height="3.4" fill="#fff" stroke="#ff9933" stroke-width="0.9"/><rect x="110.44" y="565.24" width="3.4" height="3.4" fill="#fff" stroke="#ff9933" stroke-width="0.9"/><rect x="127.52" y="557.08" width="3.4" height="3.4" fill="#fff" stroke="#ff9933" stroke-width="0.9"/><rect x="144.60" y="538.02" width="3.4" height="3.4" fill="#fff" stroke="#ff9933" stroke-width="0.9"/><rect x="161.68" y="499.92" width="3.4" height="3.4" fill="#fff" stroke="#ff9933" stroke-width="0.9"/><rect x="178.76" y="518.97" width="3.4" height="3.4" fill="#fff" stroke="#ff9933" stroke-width="0.9"/><rect x="195.84" y="518.97" width="3.4" height="3.4" fill="#fff" stroke="#ff9933" stroke-width="0.9"/><rect x="76.28" y="616.96" width="3.4" height="3.4" fill="#fff" stroke="#ff9933" stroke-width="0.9"/><rect x="93.36" y="587.02" width="3.4" height="3.4" fill="#fff" stroke="#ff9933" stroke-width="0.9"/><rect x="110.44" y="584.30" width="3.4" height="3.4" fill="#fff" stroke="#ff9933" stroke-width="0.9"/><rect x="127.52" y="570.69" width="3.4" height="3.4" fill="#fff" stroke="#ff9933" stroke-width="0.9"/><rect x="144.60" y="559.80" width="3.4" height="3.4" fill="#fff" stroke="#ff9933" stroke-width="0.9"/><rect x="161.68" y="589.74" width="3.4" height="3.4" fill="#fff" stroke="#ff9933" stroke-width="0.9"/><rect x="178.76" y="527.14" width="3.4" height="3.4" fill="#fff" stroke="#ff9933" stroke-width="0.9"/><polygon points="77.98,559.20 80.18,563.20 75.78,563.20" fill="#fff" stroke="#22dd22" stroke-width="0.9"/><polygon points="95.06,531.98 97.26,535.98 92.86,535.98" fill="#fff" stroke="#22dd22" stroke-width="0.9"/><polygon points="112.14,493.87 114.34,497.87 109.94,497.87" fill="#fff" stroke="#22dd22" stroke-width="0.9"/><polygon points="129.22,480.26 131.42,484.26 127.02,484.26" fill="#fff" stroke="#22dd22" stroke-width="0.9"/><polygon points="146.30,431.27 148.50,435.27 144.10,435.27" fill="#fff" stroke="#22dd22" stroke-width="0.9"/><polygon points="163.38,439.43 165.58,443.43 161.18,443.43" fill="#fff" stroke="#22dd22" stroke-width="0.9"/><polygon points="180.46,436.71 182.66,440.71 178.26,440.71" fill="#fff" stroke="#22dd22" stroke-width="0.9"/><polygon points="197.54,444.88 199.74,448.88 195.34,448.88" fill="#fff" stroke="#22dd22" stroke-width="0.9"/><polygon points="77.98,564.64 80.18,568.64 75.78,568.64" fill="#fff" stroke="#22dd22" stroke-width="0.9"/><polygon points="95.06,542.87 97.26,546.87 92.86,546.87" fill="#fff" stroke="#22dd22" stroke-width="0.9"/><polygon points="112.14,515.65 114.34,519.65 109.94,519.65" fill="#fff" stroke="#22dd22" stroke-width="0.9"/><polygon points="129.22,491.15 131.42,495.15 127.02,495.15" fill="#fff" stroke="#22dd22" stroke-width="0.9"/><polygon points="146.30,447.60 148.50,451.60 144.10,451.60" fill="#fff" stroke="#22dd22" stroke-width="0.9"/><polygon points="163.38,450.32 165.58,454.32 161.18,454.32" fill="#fff" stroke="#22dd22" stroke-width="0.9"/><polygon points="180.46,453.04 182.66,457.04 178.26,457.04" fill="#fff" stroke="#22dd22" stroke-width="0.9"/><polygon points="197.54,458.49 199.74,462.49 195.34,462.49" fill="#fff" stroke="#22dd22" stroke-width="0.9"/><polygon points="214.62,469.37 216.82,473.37 212.42,473.37" fill="#fff" stroke="#22dd22" stroke-width="0.9"/><polygon points="231.70,455.76 233.90,459.76 229.50,459.76" fill="#fff" stroke="#22dd22" stroke-width="0.9"/><polygon points="77.98,570.09 80.18,574.09 75.78,574.09" fill="#fff" stroke="#22dd22" stroke-width="0.9"/><polygon points="95.06,553.76 97.26,557.76 92.86,557.76" fill="#fff" stroke="#22dd22" stroke-width="0.9"/><polygon points="112.14,531.98 114.34,535.98 109.94,535.98" fill="#fff" stroke="#22dd22" stroke-width="0.9"/><polygon points="129.22,496.59 131.42,500.59 127.02,500.59" fill="#fff" stroke="#22dd22" stroke-width="0.9"/><polygon points="146.30,485.71 148.50,489.71 144.10,489.71" fill="#fff" stroke="#22dd22" stroke-width="0.9"/><polygon points="163.38,450.32 165.58,454.32 161.18,454.32" fill="#fff" stroke="#22dd22" stroke-width="0.9"/><polygon points="180.46,466.65 182.66,470.65 178.26,470.65" fill="#fff" stroke="#22dd22" stroke-width="0.9"/><polygon points="197.54,463.93 199.74,467.93 195.34,467.93" fill="#fff" stroke="#22dd22" stroke-width="0.9"/><polygon points="214.62,472.10 216.82,476.10 212.42,476.10" fill="#fff" stroke="#22dd22" stroke-width="0.9"/><polygon points="231.70,458.49 233.90,462.49 229.50,462.49" fill="#fff" stroke="#22dd22" stroke-width="0.9"/><polygon points="77.98,575.53 80.18,579.53 75.78,579.53" fill="#fff" stroke="#22dd22" stroke-width="0.9"/><polygon points="95.06,559.20 97.26,563.20 92.86,563.20" fill="#fff" stroke="#22dd22" stroke-width="0.9"/><polygon points="112.14,537.42 114.34,541.42 109.94,541.42" fill="#fff" stroke="#22dd22" stroke-width="0.9"/><polygon points="129.22,504.76 131.42,508.76 127.02,508.76" fill="#fff" stroke="#22dd22" stroke-width="0.9"/><polygon points="146.30,504.76 148.50,508.76 144.10,508.76" fill="#fff" stroke="#22dd22" stroke-width="0.9"/><polygon points="163.38,488.43 165.58,492.43 161.18,492.43" fill="#fff" stroke="#22dd22" stroke-width="0.9"/><polygon points="180.46,472.10 182.66,476.10 178.26,476.10" fill="#fff" stroke="#22dd22" stroke-width="0.9"/><polygon points="197.54,491.15 199.74,495.15 195.34,495.15" fill="#fff" stroke="#22dd22" stroke-width="0.9"/><polygon points="214.62,512.93 216.82,516.93 212.42,516.93" fill="#fff" stroke="#22dd22" stroke-width="0.9"/><polygon points="231.70,491.15 233.90,495.15 229.50,495.15" fill="#fff" stroke="#22dd22" stroke-width="0.9"/><polygon points="77.98,578.25 80.18,582.25 75.78,582.25" fill="#fff" stroke="#22dd22" stroke-width="0.9"/><polygon points="95.06,564.64 97.26,568.64 92.86,568.64" fill="#fff" stroke="#22dd22" stroke-width="0.9"/><polygon points="112.14,545.59 114.34,549.59 109.94,549.59" fill="#fff" stroke="#22dd22" stroke-width="0.9"/><polygon points="129.22,531.98 131.42,535.98 127.02,535.98" fill="#fff" stroke="#22dd22" stroke-width="0.9"/><polygon points="146.30,523.81 148.50,527.81 144.10,527.81" fill="#fff" stroke="#22dd22" stroke-width="0.9"/><polygon points="163.38,496.59 165.58,500.59 161.18,500.59" fill="#fff" stroke="#22dd22" stroke-width="0.9"/><polygon points="180.46,477.54 182.66,481.54 178.26,481.54" fill="#fff" stroke="#22dd22" stroke-width="0.9"/><polygon points="197.54,504.76 199.74,508.76 195.34,508.76" fill="#fff" stroke="#22dd22" stroke-width="0.9"/><polygon points="214.62,455.76 216.82,459.76 212.42,459.76" fill="#fff" stroke="#22dd22" stroke-width="0.9"/><polygon points="231.70,477.54 233.90,481.54 229.50,481.54" fill="#fff" stroke="#22dd22" stroke-width="0.9"/><polygon points="77.98,580.98 80.18,584.98 75.78,584.98" fill="#fff" stroke="#22dd22" stroke-width="0.9"/><polygon points="95.06,567.37 97.26,571.37 92.86,571.37" fill="#fff" stroke="#22dd22" stroke-width="0.9"/><polygon points="112.14,553.76 114.34,557.76 109.94,557.76" fill="#fff" stroke="#22dd22" stroke-width="0.9"/><polygon points="129.22,553.76 131.42,557.76 127.02,557.76" fill="#fff" stroke="#22dd22" stroke-width="0.9"/><polygon points="146.30,531.98 148.50,535.98 144.10,535.98" fill="#fff" stroke="#22dd22" stroke-width="0.9"/><polygon points="163.38,518.37 165.58,522.37 161.18,522.37" fill="#fff" stroke="#22dd22" stroke-width="0.9"/><polygon points="180.46,496.59 182.66,500.59 178.26,500.59" fill="#fff" stroke="#22dd22" stroke-width="0.9"/><polygon points="197.54,477.54 199.74,481.54 195.34,481.54" fill="#fff" stroke="#22dd22" stroke-width="0.9"/><polygon points="214.62,491.15 216.82,495.15 212.42,495.15" fill="#fff" stroke="#22dd22" stroke-width="0.9"/><polygon points="77.98,586.42 80.18,590.42 75.78,590.42" fill="#fff" stroke="#22dd22" stroke-width="0.9"/><polygon points="95.06,572.81 97.26,576.81 92.86,576.81" fill="#fff" stroke="#22dd22" stroke-width="0.9"/><polygon points="112.14,564.64 114.34,568.64 109.94,568.64" fill="#fff" stroke="#22dd22" stroke-width="0.9"/><polygon points="129.22,564.64 131.42,568.64 127.02,568.64" fill="#fff" stroke="#22dd22" stroke-width="0.9"/><polygon points="146.30,542.87 148.50,546.87 144.10,546.87" fill="#fff" stroke="#22dd22" stroke-width="0.9"/><polygon points="163.38,526.54 165.58,530.54 161.18,530.54" fill="#fff" stroke="#22dd22" stroke-width="0.9"/><polygon points="180.46,518.37 182.66,522.37 178.26,522.37" fill="#fff" stroke="#22dd22" stroke-width="0.9"/><polygon points="197.54,493.87 199.74,497.87 195.34,497.87" fill="#fff" stroke="#22dd22" stroke-width="0.9"/><polygon points="214.62,477.54 216.82,481.54 212.42,481.54" fill="#fff" stroke="#22dd22" stroke-width="0.9"/><polygon points="77.98,591.86 80.18,595.86 75.78,595.86" fill="#fff" stroke="#22dd22" stroke-width="0.9"/><polygon points="95.06,578.25 97.26,582.25 92.86,582.25" fill="#fff" stroke="#22dd22" stroke-width="0.9"/><polygon points="112.14,572.81 114.34,576.81 109.94,576.81" fill="#fff" stroke="#22dd22" stroke-width="0.9"/><polygon points="129.22,578.25 131.42,582.25 127.02,582.25" fill="#fff" stroke="#22dd22" stroke-width="0.9"/><polygon points="146.30,559.20 148.50,563.20 144.10,563.20" fill="#fff" stroke="#22dd22" stroke-width="0.9"/><polygon points="163.38,551.03 165.58,555.03 161.18,555.03" fill="#fff" stroke="#22dd22" stroke-width="0.9"/><polygon points="180.46,531.98 182.66,535.98 178.26,535.98" fill="#fff" stroke="#22dd22" stroke-width="0.9"/><polygon points="197.54,531.98 199.74,535.98 195.34,535.98" fill="#fff" stroke="#22dd22" stroke-width="0.9"/><polygon points="214.62,504.76 216.82,508.76 212.42,508.76" fill="#fff" stroke="#22dd22" stroke-width="0.9"/><polygon points="77.98,610.92 80.18,614.92 75.78,614.92" fill="#fff" stroke="#22dd22" stroke-width="0.9"/><polygon points="95.06,586.42 97.26,590.42 92.86,590.42" fill="#fff" stroke="#22dd22" stroke-width="0.9"/><polygon points="112.14,586.42 114.34,590.42 109.94,590.42" fill="#fff" stroke="#22dd22" stroke-width="0.9"/><polygon points="129.22,580.98 131.42,584.98 127.02,584.98" fill="#fff" stroke="#22dd22" stroke-width="0.9"/><polygon points="146.30,589.14 148.50,593.14 144.10,593.14" fill="#fff" stroke="#22dd22" stroke-width="0.9"/><polygon points="163.38,572.81 165.58,576.81 161.18,576.81" fill="#fff" stroke="#22dd22" stroke-width="0.9"/><polygon points="180.46,518.37 182.66,522.37 178.26,522.37" fill="#fff" stroke="#22dd22" stroke-width="0.9"/><polygon points="197.54,504.76 199.74,508.76 195.34,508.76" fill="#fff" stroke="#22dd22" stroke-width="0.9"/><polygon points="214.62,504.76 216.82,508.76 212.42,508.76" fill="#fff" stroke="#22dd22" stroke-width="0.9"/><circle cx="77.98" cy="545.17" r="1.9" fill="#fff" stroke="#3d3dff" stroke-width="0.9"/><circle cx="95.06" cy="556.06" r="1.9" fill="#fff" stroke="#3d3dff" stroke-width="0.9"/><circle cx="112.14" cy="547.89" r="1.9" fill="#fff" stroke="#3d3dff" stroke-width="0.9"/><circle cx="129.22" cy="528.84" r="1.9" fill="#fff" stroke="#3d3dff" stroke-width="0.9"/><circle cx="146.30" cy="534.28" r="1.9" fill="#fff" stroke="#3d3dff" stroke-width="0.9"/><circle cx="163.38" cy="528.84" r="1.9" fill="#fff" stroke="#3d3dff" stroke-width="0.9"/><circle cx="180.46" cy="507.06" r="1.9" fill="#fff" stroke="#3d3dff" stroke-width="0.9"/><circle cx="197.54" cy="468.95" r="1.9" fill="#fff" stroke="#3d3dff" stroke-width="0.9"/><circle cx="214.62" cy="441.73" r="1.9" fill="#fff" stroke="#3d3dff" stroke-width="0.9"/><circle cx="231.70" cy="441.73" r="1.9" fill="#fff" stroke="#3d3dff" stroke-width="0.9"/><circle cx="248.78" cy="441.73" r="1.9" fill="#fff" stroke="#3d3dff" stroke-width="0.9"/><circle cx="77.98" cy="553.33" r="1.9" fill="#fff" stroke="#3d3dff" stroke-width="0.9"/><circle cx="95.06" cy="553.33" r="1.9" fill="#fff" stroke="#3d3dff" stroke-width="0.9"/><circle cx="112.14" cy="553.33" r="1.9" fill="#fff" stroke="#3d3dff" stroke-width="0.9"/><circle cx="129.22" cy="534.28" r="1.9" fill="#fff" stroke="#3d3dff" stroke-width="0.9"/><circle cx="146.30" cy="537.00" r="1.9" fill="#fff" stroke="#3d3dff" stroke-width="0.9"/><circle cx="163.38" cy="534.28" r="1.9" fill="#fff" stroke="#3d3dff" stroke-width="0.9"/><circle cx="180.46" cy="512.50" r="1.9" fill="#fff" stroke="#3d3dff" stroke-width="0.9"/><circle cx="197.54" cy="501.62" r="1.9" fill="#fff" stroke="#3d3dff" stroke-width="0.9"/><circle cx="214.62" cy="458.06" r="1.9" fill="#fff" stroke="#3d3dff" stroke-width="0.9"/><circle cx="231.70" cy="449.90" r="1.9" fill="#fff" stroke="#3d3dff" stroke-width="0.9"/><circle cx="248.78" cy="449.90" r="1.9" fill="#fff" stroke="#3d3dff" stroke-width="0.9"/><circle cx="77.98" cy="564.22" r="1.9" fill="#fff" stroke="#3d3dff" stroke-width="0.9"/><circle cx="95.06" cy="561.50" r="1.9" fill="#fff" stroke="#3d3dff" stroke-width="0.9"/><circle cx="112.14" cy="561.50" r="1.9" fill="#fff" stroke="#3d3dff" stroke-width="0.9"/><circle cx="129.22" cy="542.45" r="1.9" fill="#fff" stroke="#3d3dff" stroke-width="0.9"/><circle cx="146.30" cy="545.17" r="1.9" fill="#fff" stroke="#3d3dff" stroke-width="0.9"/><circle cx="163.38" cy="528.84" r="1.9" fill="#fff" stroke="#3d3dff" stroke-width="0.9"/><circle cx="180.46" cy="526.11" r="1.9" fill="#fff" stroke="#3d3dff" stroke-width="0.9"/><circle cx="197.54" cy="504.34" r="1.9" fill="#fff" stroke="#3d3dff" stroke-width="0.9"/><circle cx="214.62" cy="477.12" r="1.9" fill="#fff" stroke="#3d3dff" stroke-width="0.9"/><circle cx="231.70" cy="463.51" r="1.9" fill="#fff" stroke="#3d3dff" stroke-width="0.9"/><circle cx="248.78" cy="459.43" r="1.9" fill="#fff" stroke="#3d3dff" stroke-width="0.9"/><circle cx="77.98" cy="569.67" r="1.9" fill="#fff" stroke="#3d3dff" stroke-width="0.9"/><circle cx="95.06" cy="566.94" r="1.9" fill="#fff" stroke="#3d3dff" stroke-width="0.9"/><circle cx="112.14" cy="566.94" r="1.9" fill="#fff" stroke="#3d3dff" stroke-width="0.9"/><circle cx="129.22" cy="545.17" r="1.9" fill="#fff" stroke="#3d3dff" stroke-width="0.9"/><circle cx="146.30" cy="545.17" r="1.9" fill="#fff" stroke="#3d3dff" stroke-width="0.9"/><circle cx="163.38" cy="542.45" r="1.9" fill="#fff" stroke="#3d3dff" stroke-width="0.9"/><circle cx="180.46" cy="539.72" r="1.9" fill="#fff" stroke="#3d3dff" stroke-width="0.9"/><circle cx="197.54" cy="537.00" r="1.9" fill="#fff" stroke="#3d3dff" stroke-width="0.9"/><circle cx="214.62" cy="496.17" r="1.9" fill="#fff" stroke="#3d3dff" stroke-width="0.9"/><circle cx="231.70" cy="463.51" r="1.9" fill="#fff" stroke="#3d3dff" stroke-width="0.9"/><circle cx="248.78" cy="463.51" r="1.9" fill="#fff" stroke="#3d3dff" stroke-width="0.9"/><circle cx="77.98" cy="572.39" r="1.9" fill="#fff" stroke="#3d3dff" stroke-width="0.9"/><circle cx="95.06" cy="572.39" r="1.9" fill="#fff" stroke="#3d3dff" stroke-width="0.9"/><circle cx="112.14" cy="572.39" r="1.9" fill="#fff" stroke="#3d3dff" stroke-width="0.9"/><circle cx="129.22" cy="547.89" r="1.9" fill="#fff" stroke="#3d3dff" stroke-width="0.9"/><circle cx="146.30" cy="547.89" r="1.9" fill="#fff" stroke="#3d3dff" stroke-width="0.9"/><circle cx="163.38" cy="534.28" r="1.9" fill="#fff" stroke="#3d3dff" stroke-width="0.9"/><circle cx="180.46" cy="550.61" r="1.9" fill="#fff" stroke="#3d3dff" stroke-width="0.9"/><circle cx="197.54" cy="553.33" r="1.9" fill="#fff" stroke="#3d3dff" stroke-width="0.9"/><circle cx="214.62" cy="526.11" r="1.9" fill="#fff" stroke="#3d3dff" stroke-width="0.9"/><circle cx="231.70" cy="507.06" r="1.9" fill="#fff" stroke="#3d3dff" stroke-width="0.9"/><circle cx="248.78" cy="482.56" r="1.9" fill="#fff" stroke="#3d3dff" stroke-width="0.9"/><circle cx="77.98" cy="577.83" r="1.9" fill="#fff" stroke="#3d3dff" stroke-width="0.9"/><circle cx="95.06" cy="575.11" r="1.9" fill="#fff" stroke="#3d3dff" stroke-width="0.9"/><circle cx="112.14" cy="577.83" r="1.9" fill="#fff" stroke="#3d3dff" stroke-width="0.9"/><circle cx="129.22" cy="550.61" r="1.9" fill="#fff" stroke="#3d3dff" stroke-width="0.9"/><circle cx="146.30" cy="561.50" r="1.9" fill="#fff" stroke="#3d3dff" stroke-width="0.9"/><circle cx="163.38" cy="547.89" r="1.9" fill="#fff" stroke="#3d3dff" stroke-width="0.9"/><circle cx="180.46" cy="553.33" r="1.9" fill="#fff" stroke="#3d3dff" stroke-width="0.9"/><circle cx="197.54" cy="556.06" r="1.9" fill="#fff" stroke="#3d3dff" stroke-width="0.9"/><circle cx="214.62" cy="545.17" r="1.9" fill="#fff" stroke="#3d3dff" stroke-width="0.9"/><circle cx="231.70" cy="528.84" r="1.9" fill="#fff" stroke="#3d3dff" stroke-width="0.9"/><circle cx="248.78" cy="501.62" r="1.9" fill="#fff" stroke="#3d3dff" stroke-width="0.9"/><circle cx="77.98" cy="583.28" r="1.9" fill="#fff" stroke="#3d3dff" stroke-width="0.9"/><circle cx="95.06" cy="577.83" r="1.9" fill="#fff" stroke="#3d3dff" stroke-width="0.9"/><circle cx="112.14" cy="586.00" r="1.9" fill="#fff" stroke="#3d3dff" stroke-width="0.9"/><circle cx="129.22" cy="556.06" r="1.9" fill="#fff" stroke="#3d3dff" stroke-width="0.9"/><circle cx="146.30" cy="564.22" r="1.9" fill="#fff" stroke="#3d3dff" stroke-width="0.9"/><circle cx="163.38" cy="564.22" r="1.9" fill="#fff" stroke="#3d3dff" stroke-width="0.9"/><circle cx="180.46" cy="556.06" r="1.9" fill="#fff" stroke="#3d3dff" stroke-width="0.9"/><circle cx="197.54" cy="537.00" r="1.9" fill="#fff" stroke="#3d3dff" stroke-width="0.9"/><circle cx="214.62" cy="479.84" r="1.9" fill="#fff" stroke="#3d3dff" stroke-width="0.9"/><circle cx="231.70" cy="507.60" r="1.9" fill="#fff" stroke="#3d3dff" stroke-width="0.9"/><circle cx="248.78" cy="507.60" r="1.9" fill="#fff" stroke="#3d3dff" stroke-width="0.9"/><circle cx="77.98" cy="594.16" r="1.9" fill="#fff" stroke="#3d3dff" stroke-width="0.9"/><circle cx="95.06" cy="583.28" r="1.9" fill="#fff" stroke="#3d3dff" stroke-width="0.9"/><circle cx="112.14" cy="594.16" r="1.9" fill="#fff" stroke="#3d3dff" stroke-width="0.9"/><circle cx="129.22" cy="564.22" r="1.9" fill="#fff" stroke="#3d3dff" stroke-width="0.9"/><circle cx="146.30" cy="575.11" r="1.9" fill="#fff" stroke="#3d3dff" stroke-width="0.9"/><circle cx="163.38" cy="572.39" r="1.9" fill="#fff" stroke="#3d3dff" stroke-width="0.9"/><circle cx="180.46" cy="575.11" r="1.9" fill="#fff" stroke="#3d3dff" stroke-width="0.9"/><circle cx="197.54" cy="556.06" r="1.9" fill="#fff" stroke="#3d3dff" stroke-width="0.9"/><circle cx="214.62" cy="550.61" r="1.9" fill="#fff" stroke="#3d3dff" stroke-width="0.9"/><circle cx="231.70" cy="534.28" r="1.9" fill="#fff" stroke="#3d3dff" stroke-width="0.9"/><circle cx="248.78" cy="575.11" r="1.9" fill="#fff" stroke="#3d3dff" stroke-width="0.9"/><circle cx="77.98" cy="605.05" r="1.9" fill="#fff" stroke="#3d3dff" stroke-width="0.9"/><circle cx="95.06" cy="577.83" r="1.9" fill="#fff" stroke="#3d3dff" stroke-width="0.9"/><circle cx="112.14" cy="607.77" r="1.9" fill="#fff" stroke="#3d3dff" stroke-width="0.9"/><circle cx="129.22" cy="588.72" r="1.9" fill="#fff" stroke="#3d3dff" stroke-width="0.9"/><circle cx="146.30" cy="577.83" r="1.9" fill="#fff" stroke="#3d3dff" stroke-width="0.9"/><circle cx="163.38" cy="572.39" r="1.9" fill="#fff" stroke="#3d3dff" stroke-width="0.9"/><circle cx="180.46" cy="553.33" r="1.9" fill="#fff" stroke="#3d3dff" stroke-width="0.9"/><circle cx="197.54" cy="520.67" r="1.9" fill="#fff" stroke="#3d3dff" stroke-width="0.9"/><circle cx="214.62" cy="477.12" r="1.9" fill="#fff" stroke="#3d3dff" stroke-width="0.9"/><circle cx="231.70" cy="488.01" r="1.9" fill="#fff" stroke="#3d3dff" stroke-width="0.9"/><circle cx="248.78" cy="528.84" r="1.9" fill="#fff" stroke="#3d3dff" stroke-width="0.9"/>
<line x1="60.90" y1="409.50" x2="60.90" y2="699.40" stroke="#000" stroke-width="2.7"/>
<line x1="59.50" y1="698.10" x2="253.30" y2="698.10" stroke="#000" stroke-width="2.9"/>
<line x1="54.60" y1="697.60" x2="61.00" y2="697.60" stroke="#000" stroke-width="2.8"/>
<text x="53.00" y="704.45" font-size="19.20" text-anchor="end" fill="#000" font-weight="normal">0</text>
<line x1="54.60" y1="670.38" x2="61.00" y2="670.38" stroke="#000" stroke-width="2.8"/>
<text x="53.00" y="677.23" font-size="19.20" text-anchor="end" fill="#000" font-weight="normal">10</text>
<line x1="54.60" y1="643.16" x2="61.00" y2="643.16" stroke="#000" stroke-width="2.8"/>
<text x="53.00" y="650.01" font-size="19.20" text-anchor="end" fill="#000" font-weight="normal">20</text>
<line x1="54.60" y1="615.94" x2="61.00" y2="615.94" stroke="#000" stroke-width="2.8"/>
<text x="53.00" y="622.79" font-size="19.20" text-anchor="end" fill="#000" font-weight="normal">30</text>
<line x1="54.60" y1="588.72" x2="61.00" y2="588.72" stroke="#000" stroke-width="2.8"/>
<text x="53.00" y="595.57" font-size="19.20" text-anchor="end" fill="#000" font-weight="normal">40</text>
<line x1="54.60" y1="561.50" x2="61.00" y2="561.50" stroke="#000" stroke-width="2.8"/>
<text x="53.00" y="568.35" font-size="19.20" text-anchor="end" fill="#000" font-weight="normal">50</text>
<line x1="54.60" y1="534.28" x2="61.00" y2="534.28" stroke="#000" stroke-width="2.8"/>
<text x="53.00" y="541.13" font-size="19.20" text-anchor="end" fill="#000" font-weight="normal">60</text>
<line x1="54.60" y1="507.06" x2="61.00" y2="507.06" stroke="#000" stroke-width="2.8"/>
<text x="53.00" y="513.91" font-size="19.20" text-anchor="end" fill="#000" font-weight="normal">70</text>
<line x1="54.60" y1="479.84" x2="61.00" y2="479.84" stroke="#000" stroke-width="2.8"/>
<text x="53.00" y="486.69" font-size="19.20" text-anchor="end" fill="#000" font-weight="normal">80</text>
<line x1="54.60" y1="452.62" x2="61.00" y2="452.62" stroke="#000" stroke-width="2.8"/>
<text x="53.00" y="459.47" font-size="19.20" text-anchor="end" fill="#000" font-weight="normal">90</text>
<line x1="54.60" y1="425.40" x2="61.00" y2="425.40" stroke="#000" stroke-width="2.8"/>
<text x="53.00" y="432.25" font-size="19.20" text-anchor="end" fill="#000" font-weight="normal">100</text>
<line x1="60.90" y1="698.00" x2="60.90" y2="704.30" stroke="#000" stroke-width="2.8"/>
<text x="61.30" y="723.80" font-size="19.20" text-anchor="middle" fill="#000" font-weight="normal">0</text>
<line x1="146.30" y1="698.00" x2="146.30" y2="704.30" stroke="#000" stroke-width="2.8"/>
<text x="146.70" y="723.80" font-size="19.20" text-anchor="middle" fill="#000" font-weight="normal">5</text>
<line x1="231.70" y1="698.00" x2="231.70" y2="704.30" stroke="#000" stroke-width="2.8"/>
<text x="232.10" y="723.80" font-size="19.20" text-anchor="middle" fill="#000" font-weight="normal">10</text>
<text transform="translate(112.73 748.50) scale(1.0204 1)" font-size="21.20" font-weight="normal" fill="#000">Sessions</text>
<text transform="translate(17.30 624.32) rotate(-90) scale(0.9610 1)" font-size="22.32" font-weight="normal" fill="#000">Percent correct</text>
<!--CMEANS--><rect x="72.88" y="576.00" width="10.20" height="10.20" fill="#ff7f00"/><rect x="89.96" y="551.50" width="10.20" height="10.20" fill="#ff7f00"/><rect x="107.04" y="536.53" width="10.20" height="10.20" fill="#ff7f00"/><rect x="124.12" y="523.46" width="10.20" height="10.20" fill="#ff7f00"/><rect x="141.20" y="496.79" width="10.20" height="10.20" fill="#ff7f00"/><rect x="158.28" y="494.07" width="10.20" height="10.20" fill="#ff7f00"/><rect x="175.36" y="483.72" width="10.20" height="10.20" fill="#ff7f00"/><rect x="192.44" y="469.84" width="10.20" height="10.20" fill="#ff7f00"/><rect x="209.52" y="459.77" width="10.20" height="10.20" fill="#ff7f00"/><rect x="226.60" y="467.12" width="10.20" height="10.20" fill="#ff7f00"/><polygon points="77.98,576.45 83.18,586.59 72.78,586.59" fill="#00b300" stroke="none" stroke-width="1"/><polygon points="95.06,558.76 100.26,568.90 89.86,568.90" fill="#00b300" stroke="none" stroke-width="1"/><polygon points="112.14,541.61 117.34,551.75 106.94,551.75" fill="#00b300" stroke="none" stroke-width="1"/><polygon points="129.22,528.28 134.42,538.42 124.02,538.42" fill="#00b300" stroke="none" stroke-width="1"/><polygon points="146.30,509.77 151.50,519.91 141.10,519.91" fill="#00b300" stroke="none" stroke-width="1"/><polygon points="163.38,494.25 168.58,504.39 158.18,504.39" fill="#00b300" stroke="none" stroke-width="1"/><polygon points="180.46,482.55 185.66,492.69 175.26,492.69" fill="#00b300" stroke="none" stroke-width="1"/><polygon points="197.54,482.55 202.74,492.69 192.34,492.69" fill="#00b300" stroke="none" stroke-width="1"/><polygon points="214.62,482.55 219.82,492.69 209.42,492.69" fill="#00b300" stroke="none" stroke-width="1"/><polygon points="231.70,467.58 236.90,477.72 226.50,477.72" fill="#00b300" stroke="none" stroke-width="1"/><circle cx="77.98" cy="572.39" r="5.10" fill="#0000b3"/><circle cx="95.06" cy="570.75" r="5.10" fill="#0000b3"/><circle cx="112.14" cy="572.93" r="5.10" fill="#0000b3"/><circle cx="129.22" cy="550.88" r="5.10" fill="#0000b3"/><circle cx="146.30" cy="554.42" r="5.10" fill="#0000b3"/><circle cx="163.38" cy="541.90" r="5.10" fill="#0000b3"/><circle cx="180.46" cy="532.92" r="5.10" fill="#0000b3"/><circle cx="197.54" cy="519.85" r="5.10" fill="#0000b3"/><circle cx="214.62" cy="494.54" r="5.10" fill="#0000b3"/><circle cx="231.70" cy="487.19" r="5.10" fill="#0000b3"/><circle cx="248.78" cy="491.00" r="5.10" fill="#0000b3"/>
<line x1="168.00" y1="621.40" x2="188.80" y2="621.40" stroke="#ffa860" stroke-width="1"/>
<rect x="176.4" y="619.4" width="4" height="4" fill="#fff" stroke="#ff9a40" stroke-width="1"/>
<rect x="199.30" y="616.40" width="10.20" height="10.20" fill="#ff7f00"/>
<text x="226.30" y="626.90" font-size="15.80" text-anchor="start" fill="#000" font-weight="normal">3-T</text>
<line x1="168.00" y1="647.30" x2="188.80" y2="647.30" stroke="#80ee80" stroke-width="1"/>
<polygon points="178.40,644.80 180.60,648.90 176.20,648.90" fill="#fff" stroke="#44dd44" stroke-width="1"/>
<polygon points="204.50,641.94 209.70,652.08 199.30,652.08" fill="#00b300" stroke="none" stroke-width="1"/>
<text x="226.30" y="652.90" font-size="15.80" text-anchor="start" fill="#000" font-weight="normal">2-T</text>
<line x1="168.00" y1="673.00" x2="188.80" y2="673.00" stroke="#9a9aff" stroke-width="1"/>
<circle cx="178.4" cy="673" r="2.2" fill="#fff" stroke="#5555ff" stroke-width="1"/>
<circle cx="204.40" cy="673.00" r="5.10" fill="#0000b3"/>
<text x="226.30" y="678.50" font-size="15.80" text-anchor="start" fill="#000" font-weight="normal">1-T</text>
<rect x="345.3" y="408.3" width="93.7" height="288" fill="#f5e4e4"/>
<text transform="translate(264.90 375.90) scale(0.9370 1)" font-size="40.00" font-weight="normal" fill="#000">D</text>
<line x1="343.50" y1="409.50" x2="343.50" y2="682.00" stroke="#000" stroke-width="2.7"/>
<line x1="343.50" y1="688.50" x2="343.50" y2="699.00" stroke="#000" stroke-width="2.7"/>
<line x1="338.50" y1="685.00" x2="348.00" y2="678.50" stroke="#000" stroke-width="1.6"/>
<line x1="338.50" y1="691.00" x2="348.00" y2="684.50" stroke="#000" stroke-width="1.6"/>
<line x1="337.60" y1="697.40" x2="439.70" y2="697.40" stroke="#000" stroke-width="3"/>
<line x1="337.00" y1="665.80" x2="343.60" y2="665.80" stroke="#000" stroke-width="2.8"/>
<line x1="337.00" y1="634.75" x2="343.60" y2="634.75" stroke="#000" stroke-width="2.8"/>
<line x1="337.00" y1="603.70" x2="343.60" y2="603.70" stroke="#000" stroke-width="2.8"/>
<line x1="337.00" y1="572.65" x2="343.60" y2="572.65" stroke="#000" stroke-width="2.8"/>
<line x1="337.00" y1="541.60" x2="343.60" y2="541.60" stroke="#000" stroke-width="2.8"/>
<line x1="337.00" y1="510.55" x2="343.60" y2="510.55" stroke="#000" stroke-width="2.8"/>
<line x1="337.00" y1="479.50" x2="343.60" y2="479.50" stroke="#000" stroke-width="2.8"/>
<line x1="337.00" y1="448.45" x2="343.60" y2="448.45" stroke="#000" stroke-width="2.8"/>
<line x1="337.00" y1="417.40" x2="343.60" y2="417.40" stroke="#000" stroke-width="2.8"/>
<text transform="translate(305.57 424.70) scale(1.0025 1)" font-size="17.83" font-weight="normal" fill="#000">NR</text>
<text transform="translate(314.55 454.70) scale(0.9305 1)" font-size="17.97" font-weight="normal" fill="#000">11</text>
<text transform="translate(314.44 486.20) scale(0.9898 1)" font-size="18.29" font-weight="normal" fill="#000">10</text>
<text x="334.65" y="672.40" font-size="18.40" text-anchor="end" fill="#000" font-weight="normal">4</text>
<text x="334.65" y="641.35" font-size="18.40" text-anchor="end" fill="#000" font-weight="normal">5</text>
<text x="334.65" y="610.30" font-size="18.40" text-anchor="end" fill="#000" font-weight="normal">6</text>
<text x="334.65" y="579.25" font-size="18.40" text-anchor="end" fill="#000" font-weight="normal">7</text>
<text x="334.65" y="548.20" font-size="18.40" text-anchor="end" fill="#000" font-weight="normal">8</text>
<text x="334.65" y="517.15" font-size="18.40" text-anchor="end" fill="#000" font-weight="normal">9</text>
<text x="334.65" y="704.00" font-size="18.40" text-anchor="end" fill="#000" font-weight="normal">0</text>
<line x1="358.90" y1="697.40" x2="358.90" y2="703.50" stroke="#000" stroke-width="2.8"/>
<line x1="390.60" y1="697.40" x2="390.60" y2="703.50" stroke="#000" stroke-width="2.8"/>
<line x1="422.60" y1="697.40" x2="422.60" y2="703.50" stroke="#000" stroke-width="2.8"/>
<text transform="translate(347.11 725.20) scale(0.9529 1)" font-size="19.42" font-weight="normal" fill="#000">1T</text>
<text transform="translate(379.43 725.20) scale(1.0114 1)" font-size="19.14" font-weight="normal" fill="#000">2T</text>
<text transform="translate(411.55 725.20) scale(0.9833 1)" font-size="19.14" font-weight="normal" fill="#000">3T</text>
<text transform="translate(306.80 640.97) rotate(-90) scale(0.9265 1)" font-size="23.31" font-weight="normal" fill="#000">Sessions to criterion</text>
<polyline points="356.10,405.00 356.10,390.20 425.00,390.20 425.00,405.00" fill="none" stroke="#000" stroke-width="2.2"/>
<text transform="translate(389.6 395.8) scale(0.9 1)" font-size="29" text-anchor="middle" fill="#111" style="font-family:'Liberation Serif',serif">*</text>
<circle cx="365.50" cy="417.40" r="4.40" fill="#fff" stroke="#0000ff" stroke-width="1.9"/>
<circle cx="359.70" cy="417.40" r="4.40" fill="#fff" stroke="#0000ff" stroke-width="1.9"/>
<circle cx="353.40" cy="417.40" r="4.40" fill="#fff" stroke="#0000ff" stroke-width="1.9"/>
<circle cx="359.20" cy="448.45" r="4.40" fill="#fff" stroke="#0000ff" stroke-width="1.9"/>
<circle cx="356.10" cy="479.50" r="4.40" fill="#fff" stroke="#0000ff" stroke-width="1.9"/>
<circle cx="361.90" cy="479.50" r="4.40" fill="#fff" stroke="#0000ff" stroke-width="1.9"/>
<circle cx="351.90" cy="510.55" r="4.40" fill="#fff" stroke="#0000ff" stroke-width="1.9"/>
<circle cx="365.80" cy="510.55" r="4.40" fill="#fff" stroke="#0000ff" stroke-width="1.9"/>
<circle cx="358.90" cy="510.55" r="4.40" fill="#fff" stroke="#0000ff" stroke-width="1.9"/>
<polygon points="384.40,412.15 389.40,421.65 379.40,421.65" fill="#fff" stroke="#00ee00" stroke-width="2" stroke-linejoin="miter"/>
<polygon points="396.40,412.15 401.40,421.65 391.40,421.65" fill="#fff" stroke="#00ee00" stroke-width="2" stroke-linejoin="miter"/>
<polygon points="384.40,505.30 389.40,514.80 379.40,514.80" fill="#fff" stroke="#00ee00" stroke-width="2" stroke-linejoin="miter"/>
<polygon points="396.40,505.30 401.40,514.80 391.40,514.80" fill="#fff" stroke="#00ee00" stroke-width="2" stroke-linejoin="miter"/>
<polygon points="384.40,536.35 389.40,545.85 379.40,545.85" fill="#fff" stroke="#00ee00" stroke-width="2" stroke-linejoin="miter"/>
<polygon points="396.40,536.35 401.40,545.85 391.40,545.85" fill="#fff" stroke="#00ee00" stroke-width="2" stroke-linejoin="miter"/>
<polygon points="384.40,629.50 389.40,639.00 379.40,639.00" fill="#fff" stroke="#00ee00" stroke-width="2" stroke-linejoin="miter"/>
<polygon points="396.40,629.50 401.40,639.00 391.40,639.00" fill="#fff" stroke="#00ee00" stroke-width="2" stroke-linejoin="miter"/>
<polygon points="390.40,598.45 395.40,607.95 385.40,607.95" fill="#fff" stroke="#00ee00" stroke-width="2" stroke-linejoin="miter"/>
<rect x="417.30" y="474.80" width="9.40" height="9.40" fill="#fff" stroke="#ff7a00" stroke-width="2.1"/>
<rect x="417.30" y="567.95" width="9.40" height="9.40" fill="#fff" stroke="#ff7a00" stroke-width="2.1"/>
<rect x="417.30" y="599.00" width="9.40" height="9.40" fill="#fff" stroke="#ff7a00" stroke-width="2.1"/>
<rect x="411.60" y="505.85" width="9.40" height="9.40" fill="#fff" stroke="#ff7a00" stroke-width="2.1"/>
<rect x="423.50" y="505.85" width="9.40" height="9.40" fill="#fff" stroke="#ff7a00" stroke-width="2.1"/>
<rect x="411.60" y="630.05" width="9.40" height="9.40" fill="#fff" stroke="#ff7a00" stroke-width="2.1"/>
<rect x="423.50" y="630.05" width="9.40" height="9.40" fill="#fff" stroke="#ff7a00" stroke-width="2.1"/>
<line x1="346.70" y1="479.50" x2="371.70" y2="479.50" stroke="#000" stroke-width="2.6"/>
<line x1="377.50" y1="541.60" x2="403.50" y2="541.60" stroke="#000" stroke-width="2.6"/>
<line x1="409.10" y1="572.65" x2="435.40" y2="572.65" stroke="#000" stroke-width="2.6"/>
<rect x="566.9" y="409" width="93.1" height="287.5" fill="#f5e4e4"/>
<text transform="translate(469.18 375.90) scale(0.9128 1)" font-size="40.00" font-weight="normal" fill="#000">E</text>
<line x1="564.40" y1="409.60" x2="564.40" y2="666.00" stroke="#000" stroke-width="2.7"/>
<line x1="564.40" y1="673.00" x2="564.40" y2="699.00" stroke="#000" stroke-width="2.7"/>
<line x1="559.50" y1="670.00" x2="569.00" y2="663.50" stroke="#000" stroke-width="1.6"/>
<line x1="559.50" y1="676.00" x2="569.00" y2="669.50" stroke="#000" stroke-width="1.6"/>
<line x1="557.90" y1="697.50" x2="662.00" y2="697.50" stroke="#000" stroke-width="3"/>
<line x1="558.00" y1="422.70" x2="564.50" y2="422.70" stroke="#000" stroke-width="2.8"/>
<text x="556.00" y="429.55" font-size="19.20" text-anchor="end" fill="#000" font-weight="normal">100</text>
<line x1="558.00" y1="477.50" x2="564.50" y2="477.50" stroke="#000" stroke-width="2.8"/>
<text x="556.00" y="484.35" font-size="19.20" text-anchor="end" fill="#000" font-weight="normal">90</text>
<line x1="558.00" y1="532.30" x2="564.50" y2="532.30" stroke="#000" stroke-width="2.8"/>
<text x="556.00" y="539.15" font-size="19.20" text-anchor="end" fill="#000" font-weight="normal">80</text>
<line x1="558.00" y1="587.10" x2="564.50" y2="587.10" stroke="#000" stroke-width="2.8"/>
<text x="556.00" y="593.95" font-size="19.20" text-anchor="end" fill="#000" font-weight="normal">70</text>
<line x1="558.00" y1="641.90" x2="564.50" y2="641.90" stroke="#000" stroke-width="2.8"/>
<text x="556.00" y="648.75" font-size="19.20" text-anchor="end" fill="#000" font-weight="normal">60</text>
<text x="556.00" y="704.35" font-size="19.20" text-anchor="end" fill="#000" font-weight="normal">0</text>
<line x1="580.00" y1="697.50" x2="580.00" y2="703.80" stroke="#000" stroke-width="2.8"/>
<line x1="612.20" y1="697.50" x2="612.20" y2="703.80" stroke="#000" stroke-width="2.8"/>
<line x1="643.90" y1="697.50" x2="643.90" y2="703.80" stroke="#000" stroke-width="2.8"/>
<text transform="translate(567.79 726.40) scale(0.9531 1)" font-size="19.71" font-weight="normal" fill="#000">1T</text>
<text transform="translate(600.35 726.40) scale(0.9777 1)" font-size="19.43" font-weight="normal" fill="#000">2T</text>
<text transform="translate(632.25 726.40) scale(0.9689 1)" font-size="19.43" font-weight="normal" fill="#000">3T</text>
<text transform="translate(515.20 717.72) rotate(-90) scale(0.9806 1)" font-size="21.93" font-weight="normal" fill="#000">Highest performance of Individuals</text>
<circle cx="574.60" cy="455.90" r="4.90" fill="#fff" stroke="#0000ff" stroke-width="1.9"/>
<circle cx="585.90" cy="455.90" r="4.90" fill="#fff" stroke="#0000ff" stroke-width="1.9"/>
<circle cx="574.60" cy="494.20" r="4.90" fill="#fff" stroke="#0000ff" stroke-width="1.9"/>
<circle cx="585.90" cy="494.20" r="4.90" fill="#fff" stroke="#0000ff" stroke-width="1.9"/>
<circle cx="580.40" cy="527.50" r="4.90" fill="#fff" stroke="#0000ff" stroke-width="1.9"/>
<circle cx="585.90" cy="538.50" r="4.90" fill="#fff" stroke="#0000ff" stroke-width="1.9"/>
<circle cx="574.00" cy="543.90" r="4.90" fill="#fff" stroke="#0000ff" stroke-width="1.9"/>
<circle cx="579.90" cy="598.90" r="4.90" fill="#fff" stroke="#0000ff" stroke-width="1.9"/>
<circle cx="579.90" cy="631.90" r="4.90" fill="#fff" stroke="#0000ff" stroke-width="1.9"/>
<polygon points="611.90,434.64 617.10,444.52 606.70,444.52" fill="#fff" stroke="#00ee00" stroke-width="2" stroke-linejoin="miter"/>
<polygon points="611.90,451.04 617.10,460.92 606.70,460.92" fill="#fff" stroke="#00ee00" stroke-width="2" stroke-linejoin="miter"/>
<polygon points="617.90,462.34 623.10,472.22 612.70,472.22" fill="#fff" stroke="#00ee00" stroke-width="2" stroke-linejoin="miter"/>
<polygon points="605.90,467.44 611.10,477.32 600.70,477.32" fill="#fff" stroke="#00ee00" stroke-width="2" stroke-linejoin="miter"/>
<polygon points="612.30,473.04 617.50,482.92 607.10,482.92" fill="#fff" stroke="#00ee00" stroke-width="2" stroke-linejoin="miter"/>
<polygon points="618.30,473.04 623.50,482.92 613.10,482.92" fill="#fff" stroke="#00ee00" stroke-width="2" stroke-linejoin="miter"/>
<polygon points="611.90,489.44 617.10,499.32 606.70,499.32" fill="#fff" stroke="#00ee00" stroke-width="2" stroke-linejoin="miter"/>
<polygon points="611.90,511.34 617.10,521.22 606.70,521.22" fill="#fff" stroke="#00ee00" stroke-width="2" stroke-linejoin="miter"/>
<polygon points="611.90,555.04 617.10,564.92 606.70,564.92" fill="#fff" stroke="#00ee00" stroke-width="2" stroke-linejoin="miter"/>
<rect x="633.80" y="440.00" width="9.60" height="9.60" fill="#fff" stroke="#ff7a00" stroke-width="2.1"/>
<rect x="645.10" y="440.00" width="9.60" height="9.60" fill="#fff" stroke="#ff7a00" stroke-width="2.1"/>
<rect x="639.10" y="451.10" width="9.60" height="9.60" fill="#fff" stroke="#ff7a00" stroke-width="2.1"/>
<rect x="639.10" y="494.30" width="9.60" height="9.60" fill="#fff" stroke="#ff7a00" stroke-width="2.1"/>
<rect x="633.80" y="506.10" width="9.60" height="9.60" fill="#fff" stroke="#ff7a00" stroke-width="2.1"/>
<rect x="645.10" y="506.10" width="9.60" height="9.60" fill="#fff" stroke="#ff7a00" stroke-width="2.1"/>
<rect x="639.10" y="550.00" width="9.60" height="9.60" fill="#fff" stroke="#ff7a00" stroke-width="2.1"/>
<line x1="567.10" y1="526.90" x2="593.10" y2="526.90" stroke="#000" stroke-width="2.6"/>
<line x1="599.10" y1="484.60" x2="625.10" y2="484.60" stroke="#000" stroke-width="2.6"/>
<line x1="631.10" y1="488.50" x2="657.10" y2="488.50" stroke="#000" stroke-width="2.6"/>
</svg></body></html>
